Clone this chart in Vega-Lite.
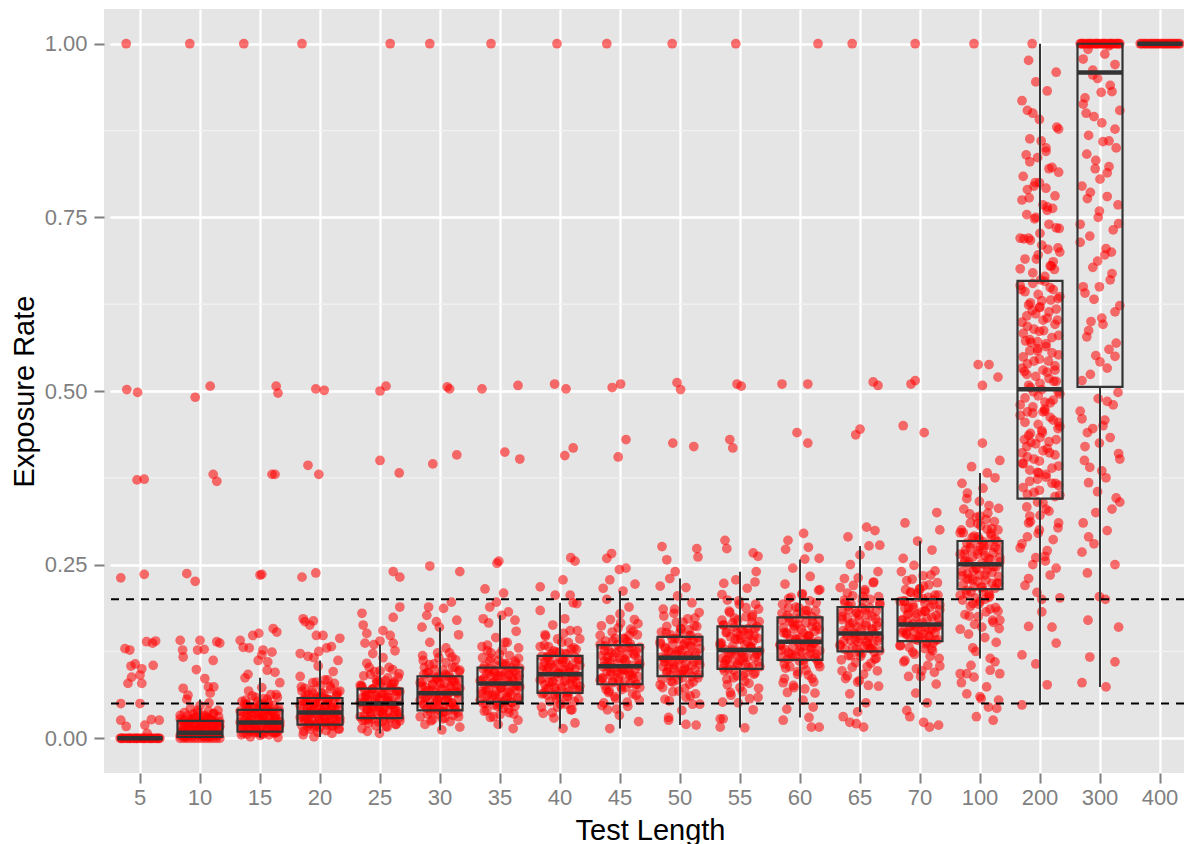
{
  "$schema": "https://vega.github.io/schema/vega-lite/v6.json",
  "width": 1080,
  "height": 764,
  "autosize": {"type": "none"},
  "padding": {"left": 104, "top": 9, "right": 0, "bottom": 71},
  "background": "#FFFFFF",
  "config": {
    "view": {"fill": "#E5E5E5", "stroke": null},
    "axis": {"labelFont": "Liberation Sans", "titleFont": "Liberation Sans"}
  },
  "datasets": {
    "minor": [{"y": 0.125}, {"y": 0.375}, {"y": 0.625}, {"y": 0.875}],
    "ref": [{"y": 0.05}, {"y": 0.2}],
    "box": [
      {"t":5,"lo":0,"q1":0,"md":0,"q3":0,"hi":0},
      {"t":10,"lo":0,"q1":0.002,"md":0.008,"q3":0.025,"hi":0.056},
      {"t":15,"lo":0.001,"q1":0.0096,"md":0.0226,"q3":0.041,"hi":0.087},
      {"t":20,"lo":0.002,"q1":0.0197,"md":0.037,"q3":0.058,"hi":0.112},
      {"t":25,"lo":0.007,"q1":0.029,"md":0.05,"q3":0.0716,"hi":0.135},
      {"t":30,"lo":0.0115,"q1":0.0403,"md":0.065,"q3":0.0893,"hi":0.1595},
      {"t":35,"lo":0.014,"q1":0.0524,"md":0.0788,"q3":0.1018,"hi":0.177},
      {"t":40,"lo":0.014,"q1":0.0653,"md":0.0922,"q3":0.1186,"hi":0.195},
      {"t":45,"lo":0.014,"q1":0.0778,"md":0.1037,"q3":0.134,"hi":0.212},
      {"t":50,"lo":0.019,"q1":0.0893,"md":0.116,"q3":0.146,"hi":0.23},
      {"t":55,"lo":0.0154,"q1":0.1,"md":0.127,"q3":0.161,"hi":0.2397},
      {"t":60,"lo":0.0298,"q1":0.113,"md":0.139,"q3":0.174,"hi":0.2575},
      {"t":65,"lo":0.038,"q1":0.125,"md":0.151,"q3":0.189,"hi":0.2767},
      {"t":70,"lo":0.0514,"q1":0.1398,"md":0.1638,"q3":0.2003,"hi":0.284},
      {"t":100,"lo":0.1148,"q1":0.2147,"md":0.2507,"q3":0.284,"hi":0.382},
      {"t":200,"lo":0.0476,"q1":0.345,"md":0.5024,"q3":0.6585,"hi":1},
      {"t":300,"lo":0.074,"q1":0.506,"md":0.9587,"q3":1,"hi":1},
      {"t":400,"lo":1,"q1":1,"md":1,"q3":1,"hi":1}
    ],
    "pts": [
      {"t":5,"y":0,"j":-33},{"t":5,"y":0,"j":-27},{"t":5,"y":0,"j":-21},{"t":5,"y":0,"j":-15},{"t":5,"y":0,"j":-9},{"t":5,"y":0,"j":-3},{"t":5,"y":0,"j":3},{"t":5,"y":0,"j":9},{"t":5,"y":0,"j":15},{"t":5,"y":0,"j":21},{"t":5,"y":0,"j":27},{"t":5,"y":0,"j":33},{"t":5,"y":0,"j":-30},{"t":5,"y":0,"j":-18},{"t":5,"y":0,"j":-6},{"t":5,"y":0,"j":6},{"t":5,"y":0,"j":18},{"t":5,"y":0,"j":30},
      {"t":5,"y":0,"j":-31},{"t":5,"y":0,"j":-24},{"t":5,"y":0,"j":-17},{"t":5,"y":0,"j":-11},{"t":5,"y":0,"j":-5},{"t":5,"y":0,"j":1},{"t":5,"y":0,"j":7},{"t":5,"y":0,"j":13},{"t":5,"y":0,"j":19},{"t":5,"y":0,"j":25},{"t":5,"y":0,"j":31},
      {"t":5,"y":0.231,"j":-32},{"t":5,"y":0.236,"j":7},{"t":5,"y":0.129,"j":-25},{"t":5,"y":0.127,"j":-17},{"t":5,"y":0.139,"j":11},{"t":5,"y":0.137,"j":21},{"t":5,"y":0.107,"j":-8},{"t":5,"y":0.105,"j":22},{"t":5,"y":0.1,"j":3},{"t":5,"y":0.088,"j":-14},{"t":5,"y":0.091,"j":0},{"t":5,"y":0.079,"j":-20},{"t":5,"y":0.079,"j":3},{"t":5,"y":0.05,"j":-32},{"t":5,"y":0.05,"j":0},{"t":5,"y":0.026,"j":-32},{"t":5,"y":0.017,"j":-23},{"t":5,"y":0.019,"j":8},{"t":5,"y":0.027,"j":19},{"t":5,"y":0.026,"j":32},{"t":5,"y":0.007,"j":12},{"t":5,"y":1,"j":-23},{"t":5,"y":0.502,"j":-22},{"t":5,"y":0.498,"j":-4},{"t":5,"y":0.372,"j":-5},{"t":5,"y":0.373,"j":7},{"t":5,"y":0.14,"j":26},{"t":5,"y":0.104,"j":-15},

      {"t":10,"y":0,"j":-33},{"t":10,"y":0,"j":-27},{"t":10,"y":0,"j":-21},{"t":10,"y":0,"j":-15},{"t":10,"y":0,"j":-9},{"t":10,"y":0,"j":-3},{"t":10,"y":0,"j":3},{"t":10,"y":0,"j":9},{"t":10,"y":0,"j":15},{"t":10,"y":0,"j":21},{"t":10,"y":0,"j":27},{"t":10,"y":0,"j":33},
      {"t":10,"y":0.002,"j":-25},{"t":10,"y":0.003,"j":17},{"t":10,"y":0.003,"j":-12},{"t":10,"y":0.003,"j":8},{"t":10,"y":0.004,"j":-33},{"t":10,"y":0.004,"j":22},{"t":10,"y":0.005,"j":-3},{"t":10,"y":0.005,"j":30},{"t":10,"y":0.005,"j":-16},{"t":10,"y":0.006,"j":0},{"t":10,"y":0.006,"j":15},{"t":10,"y":0.007,"j":-22},{"t":10,"y":0.007,"j":5},{"t":10,"y":0.007,"j":25},{"t":10,"y":0.008,"j":-10},
      {"t":10,"y":0.009,"j":-28},{"t":10,"y":0.01,"j":20},{"t":10,"y":0.011,"j":-4},{"t":10,"y":0.012,"j":10},{"t":10,"y":0.013,"j":-17},{"t":10,"y":0.014,"j":31},{"t":10,"y":0.015,"j":-1},{"t":10,"y":0.017,"j":-21},{"t":10,"y":0.018,"j":-30},{"t":10,"y":0.019,"j":12},{"t":10,"y":0.02,"j":-7},{"t":10,"y":0.021,"j":27},{"t":10,"y":0.022,"j":-19},{"t":10,"y":0.023,"j":3},{"t":10,"y":0.024,"j":33},
      {"t":10,"y":0.026,"j":-25},{"t":10,"y":0.027,"j":17},{"t":10,"y":0.029,"j":-12},{"t":10,"y":0.031,"j":8},{"t":10,"y":0.033,"j":-33},{"t":10,"y":0.035,"j":22},{"t":10,"y":0.037,"j":-3},{"t":10,"y":0.04,"j":30},{"t":10,"y":0.043,"j":-16},{"t":10,"y":0.047,"j":0},{"t":10,"y":0.051,"j":15},{"t":10,"y":0.056,"j":-22},
      {"t":10,"y":0.002,"j":-24},{"t":10,"y":0.003,"j":6},{"t":10,"y":0.004,"j":29},{"t":10,"y":0.006,"j":-13},{"t":10,"y":0.007,"j":18},{"t":10,"y":0.008,"j":-31},{"t":10,"y":0.01,"j":1},{"t":10,"y":0.011,"j":24},{"t":10,"y":0.012,"j":-6},{"t":10,"y":0.014,"j":13},{"t":10,"y":0.015,"j":-27},{"t":10,"y":0.016,"j":32},{"t":10,"y":0.018,"j":-9},{"t":10,"y":0.019,"j":21},{"t":10,"y":0.02,"j":-18},{"t":10,"y":0.021,"j":10},{"t":10,"y":0.023,"j":26},{"t":10,"y":0.024,"j":-2},{"t":10,"y":0.025,"j":-29},{"t":10,"y":0.027,"j":16},{"t":10,"y":0.028,"j":-15},{"t":10,"y":0.029,"j":4},{"t":10,"y":0.031,"j":31},{"t":10,"y":0.032,"j":-21},{"t":10,"y":0.033,"j":8},{"t":10,"y":0.035,"j":-11},{"t":10,"y":0.036,"j":23},{"t":10,"y":0.037,"j":-26},{"t":10,"y":0.039,"j":14},{"t":10,"y":0.04,"j":-4},
      {"t":10,"y":0.002,"j":15},{"t":10,"y":0.004,"j":-23},{"t":10,"y":0.005,"j":2},{"t":10,"y":0.007,"j":28},{"t":10,"y":0.008,"j":-12},{"t":10,"y":0.01,"j":-30},{"t":10,"y":0.011,"j":20},{"t":10,"y":0.013,"j":-5},{"t":10,"y":0.014,"j":9},{"t":10,"y":0.016,"j":-19},{"t":10,"y":0.017,"j":33},{"t":10,"y":0.019,"j":-26},{"t":10,"y":0.02,"j":5},{"t":10,"y":0.022,"j":25},{"t":10,"y":0.023,"j":-15},{"t":10,"y":0.025,"j":-1},{"t":10,"y":0.026,"j":19},{"t":10,"y":0.028,"j":-33},{"t":10,"y":0.029,"j":12},{"t":10,"y":0.03,"j":-8},
      {"t":10,"y":0.141,"j":-33},{"t":10,"y":0.141,"j":0},{"t":10,"y":0.139,"j":28},{"t":10,"y":0.137,"j":33},{"t":10,"y":0.127,"j":-29},{"t":10,"y":0.127,"j":-4},{"t":10,"y":0.128,"j":7},{"t":10,"y":0.117,"j":-28},{"t":10,"y":0.112,"j":22},{"t":10,"y":0.099,"j":-6},{"t":10,"y":0.086,"j":8},{"t":10,"y":0.074,"j":14},{"t":10,"y":0.074,"j":23},{"t":10,"y":0.072,"j":-28},{"t":10,"y":0.062,"j":-20},{"t":10,"y":0.065,"j":17},{"t":10,"y":0.226,"j":-8},{"t":10,"y":0.237,"j":-22},{"t":10,"y":0.38,"j":22},{"t":10,"y":0.37,"j":28},{"t":10,"y":0.491,"j":-8},{"t":10,"y":0.507,"j":17},{"t":10,"y":1,"j":-17},

      {"t":15,"y":0.001,"j":30},{"t":15,"y":0.002,"j":-16},{"t":15,"y":0.004,"j":0},{"t":15,"y":0.005,"j":15},{"t":15,"y":0.006,"j":-22},{"t":15,"y":0.006,"j":5},{"t":15,"y":0.007,"j":25},{"t":15,"y":0.008,"j":-10},{"t":15,"y":0.008,"j":-28},{"t":15,"y":0.009,"j":20},{"t":15,"y":0.009,"j":-4},{"t":15,"y":0.009,"j":10},
      {"t":15,"y":0.01,"j":-17},{"t":15,"y":0.011,"j":31},{"t":15,"y":0.012,"j":-1},{"t":15,"y":0.013,"j":-21},{"t":15,"y":0.014,"j":-30},{"t":15,"y":0.014,"j":12},{"t":15,"y":0.015,"j":-7},{"t":15,"y":0.016,"j":27},{"t":15,"y":0.017,"j":-19},{"t":15,"y":0.018,"j":3},{"t":15,"y":0.019,"j":33},{"t":15,"y":0.02,"j":-25},{"t":15,"y":0.02,"j":17},{"t":15,"y":0.021,"j":-12},{"t":15,"y":0.022,"j":8},
      {"t":15,"y":0.023,"j":-33},{"t":15,"y":0.024,"j":22},{"t":15,"y":0.026,"j":-3},{"t":15,"y":0.027,"j":30},{"t":15,"y":0.028,"j":-16},{"t":15,"y":0.029,"j":0},{"t":15,"y":0.031,"j":15},{"t":15,"y":0.032,"j":-22},{"t":15,"y":0.033,"j":5},{"t":15,"y":0.034,"j":25},{"t":15,"y":0.036,"j":-10},{"t":15,"y":0.037,"j":-28},{"t":15,"y":0.038,"j":20},{"t":15,"y":0.039,"j":-4},{"t":15,"y":0.04,"j":10},
      {"t":15,"y":0.042,"j":-17},{"t":15,"y":0.044,"j":31},{"t":15,"y":0.047,"j":-1},{"t":15,"y":0.049,"j":-21},{"t":15,"y":0.053,"j":-30},{"t":15,"y":0.056,"j":12},{"t":15,"y":0.059,"j":-7},{"t":15,"y":0.063,"j":27},{"t":15,"y":0.068,"j":-19},{"t":15,"y":0.073,"j":3},{"t":15,"y":0.08,"j":33},{"t":15,"y":0.087,"j":-25},
      {"t":15,"y":0.005,"j":-31},{"t":15,"y":0.007,"j":1},{"t":15,"y":0.009,"j":24},{"t":15,"y":0.011,"j":-6},{"t":15,"y":0.013,"j":13},{"t":15,"y":0.015,"j":-27},{"t":15,"y":0.017,"j":32},{"t":15,"y":0.019,"j":-9},{"t":15,"y":0.021,"j":21},{"t":15,"y":0.023,"j":-18},{"t":15,"y":0.025,"j":10},{"t":15,"y":0.027,"j":26},{"t":15,"y":0.029,"j":-2},{"t":15,"y":0.031,"j":-29},{"t":15,"y":0.033,"j":16},{"t":15,"y":0.035,"j":-15},{"t":15,"y":0.037,"j":4},{"t":15,"y":0.039,"j":31},{"t":15,"y":0.041,"j":-21},{"t":15,"y":0.043,"j":8},{"t":15,"y":0.045,"j":-11},{"t":15,"y":0.047,"j":23},{"t":15,"y":0.049,"j":-26},{"t":15,"y":0.051,"j":14},{"t":15,"y":0.053,"j":-4},{"t":15,"y":0.055,"j":-24},{"t":15,"y":0.057,"j":6},{"t":15,"y":0.059,"j":29},{"t":15,"y":0.061,"j":-13},{"t":15,"y":0.063,"j":18},
      {"t":15,"y":0.009,"j":28},{"t":15,"y":0.011,"j":-12},{"t":15,"y":0.014,"j":-30},{"t":15,"y":0.016,"j":20},{"t":15,"y":0.018,"j":-5},{"t":15,"y":0.02,"j":9},{"t":15,"y":0.022,"j":-19},{"t":15,"y":0.024,"j":33},{"t":15,"y":0.026,"j":-26},{"t":15,"y":0.028,"j":5},{"t":15,"y":0.03,"j":25},{"t":15,"y":0.032,"j":-15},{"t":15,"y":0.035,"j":-1},{"t":15,"y":0.037,"j":19},{"t":15,"y":0.039,"j":-33},{"t":15,"y":0.041,"j":12},{"t":15,"y":0.043,"j":-8},{"t":15,"y":0.045,"j":15},{"t":15,"y":0.047,"j":-23},{"t":15,"y":0.049,"j":2},
      {"t":15,"y":0.141,"j":-33},{"t":15,"y":0.148,"j":-12},{"t":15,"y":0.151,"j":-2},{"t":15,"y":0.158,"j":22},{"t":15,"y":0.153,"j":28},{"t":15,"y":0.131,"j":-28},{"t":15,"y":0.13,"j":-18},{"t":15,"y":0.127,"j":5},{"t":15,"y":0.124,"j":20},{"t":15,"y":0.112,"j":-3},{"t":15,"y":0.11,"j":13},{"t":15,"y":0.098,"j":12},{"t":15,"y":0.12,"j":3},{"t":15,"y":0.092,"j":-20},{"t":15,"y":0.095,"j":25},{"t":15,"y":0.235,"j":0},{"t":15,"y":0.236,"j":3},{"t":15,"y":0.38,"j":20},{"t":15,"y":0.38,"j":25},{"t":15,"y":0.507,"j":27},{"t":15,"y":0.497,"j":30},{"t":15,"y":1,"j":-27},

      {"t":20,"y":0.002,"j":-10},{"t":20,"y":0.005,"j":-28},{"t":20,"y":0.007,"j":20},{"t":20,"y":0.009,"j":-4},{"t":20,"y":0.011,"j":10},{"t":20,"y":0.013,"j":-17},{"t":20,"y":0.014,"j":31},{"t":20,"y":0.015,"j":-1},{"t":20,"y":0.017,"j":-21},{"t":20,"y":0.018,"j":-30},{"t":20,"y":0.019,"j":12},{"t":20,"y":0.019,"j":-7},
      {"t":20,"y":0.02,"j":27},{"t":20,"y":0.021,"j":-19},{"t":20,"y":0.023,"j":3},{"t":20,"y":0.024,"j":33},{"t":20,"y":0.025,"j":-25},{"t":20,"y":0.026,"j":17},{"t":20,"y":0.027,"j":-12},{"t":20,"y":0.028,"j":8},{"t":20,"y":0.03,"j":-33},{"t":20,"y":0.031,"j":22},{"t":20,"y":0.032,"j":-3},{"t":20,"y":0.033,"j":30},{"t":20,"y":0.034,"j":-16},{"t":20,"y":0.035,"j":0},{"t":20,"y":0.037,"j":15},
      {"t":20,"y":0.038,"j":-22},{"t":20,"y":0.039,"j":5},{"t":20,"y":0.041,"j":25},{"t":20,"y":0.042,"j":-10},{"t":20,"y":0.043,"j":-28},{"t":20,"y":0.045,"j":20},{"t":20,"y":0.046,"j":-4},{"t":20,"y":0.048,"j":10},{"t":20,"y":0.049,"j":-17},{"t":20,"y":0.05,"j":31},{"t":20,"y":0.052,"j":-1},{"t":20,"y":0.053,"j":-21},{"t":20,"y":0.054,"j":-30},{"t":20,"y":0.056,"j":12},{"t":20,"y":0.057,"j":-7},
      {"t":20,"y":0.06,"j":27},{"t":20,"y":0.062,"j":-19},{"t":20,"y":0.065,"j":3},{"t":20,"y":0.068,"j":33},{"t":20,"y":0.072,"j":-25},{"t":20,"y":0.075,"j":17},{"t":20,"y":0.08,"j":-12},{"t":20,"y":0.084,"j":8},{"t":20,"y":0.089,"j":-33},{"t":20,"y":0.096,"j":22},{"t":20,"y":0.104,"j":-3},{"t":20,"y":0.112,"j":30},
      {"t":20,"y":0.01,"j":-27},{"t":20,"y":0.013,"j":32},{"t":20,"y":0.016,"j":-9},{"t":20,"y":0.018,"j":21},{"t":20,"y":0.021,"j":-18},{"t":20,"y":0.023,"j":10},{"t":20,"y":0.026,"j":26},{"t":20,"y":0.028,"j":-2},{"t":20,"y":0.031,"j":-29},{"t":20,"y":0.033,"j":16},{"t":20,"y":0.036,"j":-15},{"t":20,"y":0.038,"j":4},{"t":20,"y":0.041,"j":31},{"t":20,"y":0.043,"j":-21},{"t":20,"y":0.046,"j":8},{"t":20,"y":0.048,"j":-11},{"t":20,"y":0.051,"j":23},{"t":20,"y":0.053,"j":-26},{"t":20,"y":0.056,"j":14},{"t":20,"y":0.059,"j":-4},{"t":20,"y":0.061,"j":-24},{"t":20,"y":0.064,"j":6},{"t":20,"y":0.066,"j":29},{"t":20,"y":0.069,"j":-13},{"t":20,"y":0.071,"j":18},{"t":20,"y":0.074,"j":-31},{"t":20,"y":0.076,"j":1},{"t":20,"y":0.079,"j":24},{"t":20,"y":0.081,"j":-6},{"t":20,"y":0.084,"j":13},
      {"t":20,"y":0.018,"j":20},{"t":20,"y":0.021,"j":-5},{"t":20,"y":0.024,"j":9},{"t":20,"y":0.026,"j":-19},{"t":20,"y":0.029,"j":33},{"t":20,"y":0.031,"j":-26},{"t":20,"y":0.034,"j":5},{"t":20,"y":0.036,"j":25},{"t":20,"y":0.039,"j":-15},{"t":20,"y":0.042,"j":-1},{"t":20,"y":0.044,"j":19},{"t":20,"y":0.047,"j":-33},{"t":20,"y":0.049,"j":12},{"t":20,"y":0.052,"j":-8},{"t":20,"y":0.055,"j":15},{"t":20,"y":0.057,"j":-23},{"t":20,"y":0.06,"j":2},{"t":20,"y":0.062,"j":28},{"t":20,"y":0.065,"j":-12},{"t":20,"y":0.068,"j":-30},
      {"t":20,"y":0.122,"j":-33},{"t":20,"y":0.148,"j":-6},{"t":20,"y":0.148,"j":5},{"t":20,"y":0.144,"j":33},{"t":20,"y":0.132,"j":19},{"t":20,"y":0.13,"j":11},{"t":20,"y":0.116,"j":-10},{"t":20,"y":0.163,"j":-17},{"t":20,"y":0.168,"j":-25},{"t":20,"y":0.172,"j":-28},{"t":20,"y":0.169,"j":-11},{"t":20,"y":0.118,"j":-20},{"t":20,"y":0.125,"j":-2},{"t":20,"y":0.232,"j":-30},{"t":20,"y":0.238,"j":-7},{"t":20,"y":0.393,"j":-20},{"t":20,"y":0.38,"j":-2},{"t":20,"y":0.503,"j":-7},{"t":20,"y":0.501,"j":7},{"t":20,"y":1,"j":-30},

      {"t":25,"y":0.007,"j":-1},{"t":25,"y":0.01,"j":-21},{"t":25,"y":0.014,"j":-30},{"t":25,"y":0.016,"j":12},{"t":25,"y":0.018,"j":-7},{"t":25,"y":0.02,"j":27},{"t":25,"y":0.022,"j":-19},{"t":25,"y":0.024,"j":3},{"t":25,"y":0.025,"j":33},{"t":25,"y":0.026,"j":-25},{"t":25,"y":0.028,"j":17},{"t":25,"y":0.028,"j":-12},
      {"t":25,"y":0.03,"j":8},{"t":25,"y":0.031,"j":-33},{"t":25,"y":0.033,"j":22},{"t":25,"y":0.034,"j":-3},{"t":25,"y":0.035,"j":30},{"t":25,"y":0.037,"j":-16},{"t":25,"y":0.038,"j":0},{"t":25,"y":0.04,"j":15},{"t":25,"y":0.041,"j":-22},{"t":25,"y":0.042,"j":5},{"t":25,"y":0.044,"j":25},{"t":25,"y":0.045,"j":-10},{"t":25,"y":0.046,"j":-28},{"t":25,"y":0.048,"j":20},{"t":25,"y":0.049,"j":-4},
      {"t":25,"y":0.051,"j":10},{"t":25,"y":0.052,"j":-17},{"t":25,"y":0.054,"j":31},{"t":25,"y":0.055,"j":-1},{"t":25,"y":0.057,"j":-21},{"t":25,"y":0.058,"j":-30},{"t":25,"y":0.059,"j":12},{"t":25,"y":0.061,"j":-7},{"t":25,"y":0.062,"j":27},{"t":25,"y":0.064,"j":-19},{"t":25,"y":0.065,"j":3},{"t":25,"y":0.067,"j":33},{"t":25,"y":0.068,"j":-25},{"t":25,"y":0.069,"j":17},{"t":25,"y":0.071,"j":-12},
      {"t":25,"y":0.074,"j":8},{"t":25,"y":0.076,"j":-33},{"t":25,"y":0.079,"j":22},{"t":25,"y":0.083,"j":-3},{"t":25,"y":0.088,"j":30},{"t":25,"y":0.092,"j":-16},{"t":25,"y":0.097,"j":0},{"t":25,"y":0.102,"j":15},{"t":25,"y":0.108,"j":-22},{"t":25,"y":0.116,"j":5},{"t":25,"y":0.126,"j":25},{"t":25,"y":0.135,"j":-10},
      {"t":25,"y":0.017,"j":10},{"t":25,"y":0.02,"j":26},{"t":25,"y":0.023,"j":-2},{"t":25,"y":0.026,"j":-29},{"t":25,"y":0.029,"j":16},{"t":25,"y":0.032,"j":-15},{"t":25,"y":0.035,"j":4},{"t":25,"y":0.038,"j":31},{"t":25,"y":0.041,"j":-21},{"t":25,"y":0.044,"j":8},{"t":25,"y":0.046,"j":-11},{"t":25,"y":0.049,"j":23},{"t":25,"y":0.052,"j":-26},{"t":25,"y":0.055,"j":14},{"t":25,"y":0.058,"j":-4},{"t":25,"y":0.061,"j":-24},{"t":25,"y":0.064,"j":6},{"t":25,"y":0.067,"j":29},{"t":25,"y":0.07,"j":-13},{"t":25,"y":0.073,"j":18},{"t":25,"y":0.076,"j":-31},{"t":25,"y":0.079,"j":1},{"t":25,"y":0.081,"j":24},{"t":25,"y":0.084,"j":-6},{"t":25,"y":0.087,"j":13},{"t":25,"y":0.09,"j":-27},{"t":25,"y":0.093,"j":32},{"t":25,"y":0.096,"j":-9},{"t":25,"y":0.099,"j":21},{"t":25,"y":0.102,"j":-18},
      {"t":25,"y":0.027,"j":-19},{"t":25,"y":0.03,"j":33},{"t":25,"y":0.033,"j":-26},{"t":25,"y":0.036,"j":5},{"t":25,"y":0.039,"j":25},{"t":25,"y":0.042,"j":-15},{"t":25,"y":0.045,"j":-1},{"t":25,"y":0.048,"j":19},{"t":25,"y":0.051,"j":-33},{"t":25,"y":0.054,"j":12},{"t":25,"y":0.057,"j":-8},{"t":25,"y":0.059,"j":15},{"t":25,"y":0.062,"j":-23},{"t":25,"y":0.065,"j":2},{"t":25,"y":0.068,"j":28},{"t":25,"y":0.071,"j":-12},{"t":25,"y":0.074,"j":-30},{"t":25,"y":0.077,"j":20},{"t":25,"y":0.08,"j":-5},{"t":25,"y":0.083,"j":9},
      {"t":25,"y":0.163,"j":-28},{"t":25,"y":0.151,"j":-22},{"t":25,"y":0.148,"j":17},{"t":25,"y":0.137,"j":22},{"t":25,"y":0.137,"j":-25},{"t":25,"y":0.122,"j":-12},{"t":25,"y":0.18,"j":-30},{"t":25,"y":0.189,"j":33},{"t":25,"y":0.174,"j":22},{"t":25,"y":0.155,"j":5},{"t":25,"y":0.14,"j":0},{"t":25,"y":0.24,"j":22},{"t":25,"y":0.232,"j":33},{"t":25,"y":0.4,"j":0},{"t":25,"y":0.382,"j":32},{"t":25,"y":0.5,"j":0},{"t":25,"y":0.507,"j":10},{"t":25,"y":1,"j":17},

      {"t":30,"y":0.012,"j":3},{"t":30,"y":0.016,"j":33},{"t":30,"y":0.02,"j":-25},{"t":30,"y":0.024,"j":17},{"t":30,"y":0.027,"j":-12},{"t":30,"y":0.029,"j":8},{"t":30,"y":0.031,"j":-33},{"t":30,"y":0.033,"j":22},{"t":30,"y":0.035,"j":-3},{"t":30,"y":0.037,"j":30},{"t":30,"y":0.038,"j":-16},{"t":30,"y":0.039,"j":0},
      {"t":30,"y":0.041,"j":15},{"t":30,"y":0.043,"j":-22},{"t":30,"y":0.045,"j":5},{"t":30,"y":0.046,"j":25},{"t":30,"y":0.048,"j":-10},{"t":30,"y":0.049,"j":-28},{"t":30,"y":0.051,"j":20},{"t":30,"y":0.053,"j":-4},{"t":30,"y":0.054,"j":10},{"t":30,"y":0.056,"j":-17},{"t":30,"y":0.058,"j":31},{"t":30,"y":0.059,"j":-1},{"t":30,"y":0.061,"j":-21},{"t":30,"y":0.063,"j":-30},{"t":30,"y":0.064,"j":12},
      {"t":30,"y":0.066,"j":-7},{"t":30,"y":0.067,"j":27},{"t":30,"y":0.069,"j":-19},{"t":30,"y":0.071,"j":3},{"t":30,"y":0.072,"j":33},{"t":30,"y":0.074,"j":-25},{"t":30,"y":0.075,"j":17},{"t":30,"y":0.077,"j":-12},{"t":30,"y":0.079,"j":8},{"t":30,"y":0.08,"j":-33},{"t":30,"y":0.082,"j":22},{"t":30,"y":0.084,"j":-3},{"t":30,"y":0.085,"j":30},{"t":30,"y":0.087,"j":-16},{"t":30,"y":0.089,"j":0},
      {"t":30,"y":0.091,"j":15},{"t":30,"y":0.094,"j":-22},{"t":30,"y":0.098,"j":5},{"t":30,"y":0.102,"j":25},{"t":30,"y":0.107,"j":-10},{"t":30,"y":0.112,"j":-28},{"t":30,"y":0.117,"j":20},{"t":30,"y":0.123,"j":-4},{"t":30,"y":0.13,"j":10},{"t":30,"y":0.138,"j":-17},{"t":30,"y":0.149,"j":31},{"t":30,"y":0.16,"j":-1},
      {"t":30,"y":0.025,"j":-15},{"t":30,"y":0.028,"j":4},{"t":30,"y":0.031,"j":31},{"t":30,"y":0.035,"j":-21},{"t":30,"y":0.038,"j":8},{"t":30,"y":0.042,"j":-11},{"t":30,"y":0.045,"j":23},{"t":30,"y":0.048,"j":-26},{"t":30,"y":0.052,"j":14},{"t":30,"y":0.055,"j":-4},{"t":30,"y":0.058,"j":-24},{"t":30,"y":0.062,"j":6},{"t":30,"y":0.065,"j":29},{"t":30,"y":0.069,"j":-13},{"t":30,"y":0.072,"j":18},{"t":30,"y":0.075,"j":-31},{"t":30,"y":0.079,"j":1},{"t":30,"y":0.082,"j":24},{"t":30,"y":0.086,"j":-6},{"t":30,"y":0.089,"j":13},{"t":30,"y":0.092,"j":-27},{"t":30,"y":0.096,"j":32},{"t":30,"y":0.099,"j":-9},{"t":30,"y":0.102,"j":21},{"t":30,"y":0.106,"j":-18},{"t":30,"y":0.109,"j":10},{"t":30,"y":0.113,"j":26},{"t":30,"y":0.116,"j":-2},{"t":30,"y":0.119,"j":-29},{"t":30,"y":0.123,"j":16},
      {"t":30,"y":0.038,"j":5},{"t":30,"y":0.041,"j":25},{"t":30,"y":0.044,"j":-15},{"t":30,"y":0.048,"j":-1},{"t":30,"y":0.051,"j":19},{"t":30,"y":0.055,"j":-33},{"t":30,"y":0.058,"j":12},{"t":30,"y":0.061,"j":-8},{"t":30,"y":0.065,"j":15},{"t":30,"y":0.068,"j":-23},{"t":30,"y":0.071,"j":2},{"t":30,"y":0.075,"j":28},{"t":30,"y":0.078,"j":-12},{"t":30,"y":0.081,"j":-30},{"t":30,"y":0.085,"j":20},{"t":30,"y":0.088,"j":-5},{"t":30,"y":0.092,"j":9},{"t":30,"y":0.095,"j":-19},{"t":30,"y":0.098,"j":33},{"t":30,"y":0.102,"j":-26},
      {"t":30,"y":0.16,"j":-30},{"t":30,"y":0.189,"j":-19},{"t":30,"y":0.177,"j":-22},{"t":30,"y":0.168,"j":-6},{"t":30,"y":0.187,"j":6},{"t":30,"y":0.196,"j":19},{"t":30,"y":0.17,"j":28},{"t":30,"y":0.248,"j":-17},{"t":30,"y":0.24,"j":33},{"t":30,"y":0.395,"j":-12},{"t":30,"y":0.408,"j":28},{"t":30,"y":0.506,"j":12},{"t":30,"y":0.503,"j":16},{"t":30,"y":1,"j":-17},

      {"t":35,"y":0.014,"j":22},{"t":35,"y":0.02,"j":-3},{"t":35,"y":0.026,"j":30},{"t":35,"y":0.03,"j":-16},{"t":35,"y":0.034,"j":0},{"t":35,"y":0.037,"j":15},{"t":35,"y":0.04,"j":-22},{"t":35,"y":0.043,"j":5},{"t":35,"y":0.046,"j":25},{"t":35,"y":0.048,"j":-10},{"t":35,"y":0.05,"j":-28},{"t":35,"y":0.051,"j":20},
      {"t":35,"y":0.053,"j":-4},{"t":35,"y":0.055,"j":10},{"t":35,"y":0.057,"j":-17},{"t":35,"y":0.059,"j":31},{"t":35,"y":0.06,"j":-1},{"t":35,"y":0.062,"j":-21},{"t":35,"y":0.064,"j":-30},{"t":35,"y":0.066,"j":12},{"t":35,"y":0.067,"j":-7},{"t":35,"y":0.069,"j":27},{"t":35,"y":0.071,"j":-19},{"t":35,"y":0.073,"j":3},{"t":35,"y":0.074,"j":33},{"t":35,"y":0.076,"j":-25},{"t":35,"y":0.078,"j":17},
      {"t":35,"y":0.08,"j":-12},{"t":35,"y":0.081,"j":8},{"t":35,"y":0.083,"j":-33},{"t":35,"y":0.084,"j":22},{"t":35,"y":0.086,"j":-3},{"t":35,"y":0.087,"j":30},{"t":35,"y":0.089,"j":-16},{"t":35,"y":0.09,"j":0},{"t":35,"y":0.092,"j":15},{"t":35,"y":0.093,"j":-22},{"t":35,"y":0.095,"j":5},{"t":35,"y":0.097,"j":25},{"t":35,"y":0.098,"j":-10},{"t":35,"y":0.1,"j":-28},{"t":35,"y":0.101,"j":20},
      {"t":35,"y":0.104,"j":-4},{"t":35,"y":0.107,"j":10},{"t":35,"y":0.111,"j":-17},{"t":35,"y":0.115,"j":31},{"t":35,"y":0.121,"j":-1},{"t":35,"y":0.126,"j":-21},{"t":35,"y":0.132,"j":-30},{"t":35,"y":0.138,"j":12},{"t":35,"y":0.145,"j":-7},{"t":35,"y":0.154,"j":27},{"t":35,"y":0.166,"j":-19},{"t":35,"y":0.177,"j":3},
      {"t":35,"y":0.031,"j":-11},{"t":35,"y":0.035,"j":23},{"t":35,"y":0.039,"j":-26},{"t":35,"y":0.042,"j":14},{"t":35,"y":0.046,"j":-4},{"t":35,"y":0.05,"j":-24},{"t":35,"y":0.053,"j":6},{"t":35,"y":0.057,"j":29},{"t":35,"y":0.061,"j":-13},{"t":35,"y":0.064,"j":18},{"t":35,"y":0.068,"j":-31},{"t":35,"y":0.072,"j":1},{"t":35,"y":0.075,"j":24},{"t":35,"y":0.079,"j":-6},{"t":35,"y":0.083,"j":13},{"t":35,"y":0.086,"j":-27},{"t":35,"y":0.09,"j":32},{"t":35,"y":0.094,"j":-9},{"t":35,"y":0.097,"j":21},{"t":35,"y":0.101,"j":-18},{"t":35,"y":0.105,"j":10},{"t":35,"y":0.108,"j":26},{"t":35,"y":0.112,"j":-2},{"t":35,"y":0.116,"j":-29},{"t":35,"y":0.119,"j":16},{"t":35,"y":0.123,"j":-15},{"t":35,"y":0.127,"j":4},{"t":35,"y":0.13,"j":31},{"t":35,"y":0.134,"j":-21},{"t":35,"y":0.138,"j":8},
      {"t":35,"y":0.048,"j":-1},{"t":35,"y":0.052,"j":19},{"t":35,"y":0.055,"j":-33},{"t":35,"y":0.059,"j":12},{"t":35,"y":0.062,"j":-8},{"t":35,"y":0.066,"j":15},{"t":35,"y":0.069,"j":-23},{"t":35,"y":0.073,"j":2},{"t":35,"y":0.076,"j":28},{"t":35,"y":0.08,"j":-12},{"t":35,"y":0.083,"j":-30},{"t":35,"y":0.087,"j":20},{"t":35,"y":0.09,"j":-5},{"t":35,"y":0.094,"j":9},{"t":35,"y":0.097,"j":-19},{"t":35,"y":0.101,"j":33},{"t":35,"y":0.104,"j":-26},{"t":35,"y":0.108,"j":5},{"t":35,"y":0.111,"j":25},{"t":35,"y":0.115,"j":-15},
      {"t":35,"y":0.172,"j":-28},{"t":35,"y":0.189,"j":-17},{"t":35,"y":0.209,"j":6},{"t":35,"y":0.182,"j":14},{"t":35,"y":0.17,"j":25},{"t":35,"y":0.196,"j":-6},{"t":35,"y":0.215,"j":-25},{"t":35,"y":0.252,"j":-5},{"t":35,"y":0.255,"j":-2},{"t":35,"y":0.412,"j":8},{"t":35,"y":0.402,"j":33},{"t":35,"y":0.503,"j":-30},{"t":35,"y":0.508,"j":30},{"t":35,"y":1,"j":-15},

      {"t":40,"y":0.014,"j":5},{"t":40,"y":0.022,"j":25},{"t":40,"y":0.029,"j":-10},{"t":40,"y":0.036,"j":-28},{"t":40,"y":0.041,"j":20},{"t":40,"y":0.045,"j":-4},{"t":40,"y":0.049,"j":10},{"t":40,"y":0.053,"j":-17},{"t":40,"y":0.056,"j":31},{"t":40,"y":0.059,"j":-1},{"t":40,"y":0.062,"j":-21},{"t":40,"y":0.064,"j":-30},
      {"t":40,"y":0.066,"j":12},{"t":40,"y":0.068,"j":-7},{"t":40,"y":0.07,"j":27},{"t":40,"y":0.072,"j":-19},{"t":40,"y":0.073,"j":3},{"t":40,"y":0.075,"j":33},{"t":40,"y":0.077,"j":-25},{"t":40,"y":0.079,"j":17},{"t":40,"y":0.081,"j":-12},{"t":40,"y":0.082,"j":8},{"t":40,"y":0.084,"j":-33},{"t":40,"y":0.086,"j":22},{"t":40,"y":0.088,"j":-3},{"t":40,"y":0.09,"j":30},{"t":40,"y":0.091,"j":-16},
      {"t":40,"y":0.093,"j":0},{"t":40,"y":0.095,"j":15},{"t":40,"y":0.097,"j":-22},{"t":40,"y":0.098,"j":5},{"t":40,"y":0.1,"j":25},{"t":40,"y":0.102,"j":-10},{"t":40,"y":0.104,"j":-28},{"t":40,"y":0.105,"j":20},{"t":40,"y":0.107,"j":-4},{"t":40,"y":0.109,"j":10},{"t":40,"y":0.111,"j":-17},{"t":40,"y":0.113,"j":31},{"t":40,"y":0.114,"j":-1},{"t":40,"y":0.116,"j":-21},{"t":40,"y":0.118,"j":-30},
      {"t":40,"y":0.121,"j":12},{"t":40,"y":0.124,"j":-7},{"t":40,"y":0.128,"j":27},{"t":40,"y":0.132,"j":-19},{"t":40,"y":0.138,"j":3},{"t":40,"y":0.143,"j":33},{"t":40,"y":0.149,"j":-25},{"t":40,"y":0.155,"j":17},{"t":40,"y":0.163,"j":-12},{"t":40,"y":0.172,"j":8},{"t":40,"y":0.184,"j":-33},{"t":40,"y":0.195,"j":22},
      {"t":40,"y":0.037,"j":-13},{"t":40,"y":0.041,"j":18},{"t":40,"y":0.045,"j":-31},{"t":40,"y":0.049,"j":1},{"t":40,"y":0.053,"j":24},{"t":40,"y":0.057,"j":-6},{"t":40,"y":0.061,"j":13},{"t":40,"y":0.065,"j":-27},{"t":40,"y":0.069,"j":32},{"t":40,"y":0.073,"j":-9},{"t":40,"y":0.077,"j":21},{"t":40,"y":0.081,"j":-18},{"t":40,"y":0.085,"j":10},{"t":40,"y":0.09,"j":26},{"t":40,"y":0.094,"j":-2},{"t":40,"y":0.098,"j":-29},{"t":40,"y":0.102,"j":16},{"t":40,"y":0.106,"j":-15},{"t":40,"y":0.11,"j":4},{"t":40,"y":0.114,"j":31},{"t":40,"y":0.118,"j":-21},{"t":40,"y":0.122,"j":8},{"t":40,"y":0.126,"j":-11},{"t":40,"y":0.13,"j":23},{"t":40,"y":0.134,"j":-26},{"t":40,"y":0.138,"j":14},{"t":40,"y":0.143,"j":-4},{"t":40,"y":0.147,"j":-24},{"t":40,"y":0.151,"j":6},{"t":40,"y":0.155,"j":29},
      {"t":40,"y":0.06,"j":12},{"t":40,"y":0.063,"j":-8},{"t":40,"y":0.067,"j":15},{"t":40,"y":0.071,"j":-23},{"t":40,"y":0.075,"j":2},{"t":40,"y":0.079,"j":28},{"t":40,"y":0.082,"j":-12},{"t":40,"y":0.086,"j":-30},{"t":40,"y":0.09,"j":20},{"t":40,"y":0.094,"j":-5},{"t":40,"y":0.098,"j":9},{"t":40,"y":0.102,"j":-19},{"t":40,"y":0.105,"j":33},{"t":40,"y":0.109,"j":-26},{"t":40,"y":0.113,"j":5},{"t":40,"y":0.117,"j":25},{"t":40,"y":0.121,"j":-15},{"t":40,"y":0.124,"j":-1},{"t":40,"y":0.128,"j":19},{"t":40,"y":0.132,"j":-33},
      {"t":40,"y":0.218,"j":-33},{"t":40,"y":0.206,"j":-8},{"t":40,"y":0.206,"j":17},{"t":40,"y":0.194,"j":28},{"t":40,"y":0.228,"j":5},{"t":40,"y":0.26,"j":18},{"t":40,"y":0.255,"j":25},{"t":40,"y":0.407,"j":8},{"t":40,"y":0.418,"j":22},{"t":40,"y":0.51,"j":-9},{"t":40,"y":0.503,"j":10},{"t":40,"y":1,"j":-5},

      {"t":45,"y":0.014,"j":-17},{"t":45,"y":0.024,"j":31},{"t":45,"y":0.033,"j":-1},{"t":45,"y":0.041,"j":-21},{"t":45,"y":0.047,"j":-30},{"t":45,"y":0.052,"j":12},{"t":45,"y":0.057,"j":-7},{"t":45,"y":0.062,"j":27},{"t":45,"y":0.066,"j":-19},{"t":45,"y":0.07,"j":3},{"t":45,"y":0.073,"j":33},{"t":45,"y":0.076,"j":-25},
      {"t":45,"y":0.079,"j":17},{"t":45,"y":0.08,"j":-12},{"t":45,"y":0.082,"j":8},{"t":45,"y":0.084,"j":-33},{"t":45,"y":0.086,"j":22},{"t":45,"y":0.087,"j":-3},{"t":45,"y":0.089,"j":30},{"t":45,"y":0.091,"j":-16},{"t":45,"y":0.093,"j":0},{"t":45,"y":0.094,"j":15},{"t":45,"y":0.096,"j":-22},{"t":45,"y":0.098,"j":5},{"t":45,"y":0.099,"j":25},{"t":45,"y":0.101,"j":-10},{"t":45,"y":0.103,"j":-28},
      {"t":45,"y":0.105,"j":20},{"t":45,"y":0.107,"j":-4},{"t":45,"y":0.109,"j":10},{"t":45,"y":0.111,"j":-17},{"t":45,"y":0.113,"j":31},{"t":45,"y":0.115,"j":-1},{"t":45,"y":0.117,"j":-21},{"t":45,"y":0.119,"j":-30},{"t":45,"y":0.121,"j":12},{"t":45,"y":0.123,"j":-7},{"t":45,"y":0.125,"j":27},{"t":45,"y":0.127,"j":-19},{"t":45,"y":0.129,"j":3},{"t":45,"y":0.131,"j":33},{"t":45,"y":0.133,"j":-25},
      {"t":45,"y":0.136,"j":17},{"t":45,"y":0.14,"j":-12},{"t":45,"y":0.143,"j":8},{"t":45,"y":0.148,"j":-33},{"t":45,"y":0.154,"j":22},{"t":45,"y":0.159,"j":-3},{"t":45,"y":0.165,"j":30},{"t":45,"y":0.171,"j":-16},{"t":45,"y":0.179,"j":0},{"t":45,"y":0.189,"j":15},{"t":45,"y":0.2,"j":-22},{"t":45,"y":0.212,"j":5},
      {"t":45,"y":0.042,"j":-6},{"t":45,"y":0.046,"j":13},{"t":45,"y":0.051,"j":-27},{"t":45,"y":0.055,"j":32},{"t":45,"y":0.06,"j":-9},{"t":45,"y":0.064,"j":21},{"t":45,"y":0.068,"j":-18},{"t":45,"y":0.073,"j":10},{"t":45,"y":0.077,"j":26},{"t":45,"y":0.082,"j":-2},{"t":45,"y":0.086,"j":-29},{"t":45,"y":0.091,"j":16},{"t":45,"y":0.095,"j":-15},{"t":45,"y":0.1,"j":4},{"t":45,"y":0.104,"j":31},{"t":45,"y":0.109,"j":-21},{"t":45,"y":0.113,"j":8},{"t":45,"y":0.117,"j":-11},{"t":45,"y":0.122,"j":23},{"t":45,"y":0.126,"j":-26},{"t":45,"y":0.131,"j":14},{"t":45,"y":0.135,"j":-4},{"t":45,"y":0.14,"j":-24},{"t":45,"y":0.144,"j":6},{"t":45,"y":0.149,"j":29},{"t":45,"y":0.153,"j":-13},{"t":45,"y":0.157,"j":18},{"t":45,"y":0.162,"j":-31},{"t":45,"y":0.166,"j":1},{"t":45,"y":0.171,"j":24},
      {"t":45,"y":0.07,"j":-23},{"t":45,"y":0.074,"j":2},{"t":45,"y":0.078,"j":28},{"t":45,"y":0.082,"j":-12},{"t":45,"y":0.087,"j":-30},{"t":45,"y":0.091,"j":20},{"t":45,"y":0.095,"j":-5},{"t":45,"y":0.099,"j":9},{"t":45,"y":0.103,"j":-19},{"t":45,"y":0.107,"j":33},{"t":45,"y":0.111,"j":-26},{"t":45,"y":0.115,"j":5},{"t":45,"y":0.119,"j":25},{"t":45,"y":0.123,"j":-15},{"t":45,"y":0.127,"j":-1},{"t":45,"y":0.131,"j":19},{"t":45,"y":0.135,"j":-33},{"t":45,"y":0.139,"j":12},{"t":45,"y":0.144,"j":-8},{"t":45,"y":0.148,"j":15},
      {"t":45,"y":0.259,"j":-22},{"t":45,"y":0.266,"j":-14},{"t":45,"y":0.243,"j":-1},{"t":45,"y":0.228,"j":-17},{"t":45,"y":0.216,"j":-28},{"t":45,"y":0.245,"j":10},{"t":45,"y":0.222,"j":25},{"t":45,"y":0.405,"j":-3},{"t":45,"y":0.43,"j":10},{"t":45,"y":0.505,"j":-13},{"t":45,"y":0.51,"j":1},{"t":45,"y":1,"j":-22},

      {"t":50,"y":0.019,"j":27},{"t":50,"y":0.03,"j":-19},{"t":50,"y":0.04,"j":3},{"t":50,"y":0.049,"j":33},{"t":50,"y":0.056,"j":-25},{"t":50,"y":0.061,"j":17},{"t":50,"y":0.067,"j":-12},{"t":50,"y":0.072,"j":8},{"t":50,"y":0.077,"j":-33},{"t":50,"y":0.081,"j":22},{"t":50,"y":0.084,"j":-3},{"t":50,"y":0.087,"j":30},
      {"t":50,"y":0.09,"j":-16},{"t":50,"y":0.092,"j":0},{"t":50,"y":0.094,"j":15},{"t":50,"y":0.095,"j":-22},{"t":50,"y":0.097,"j":5},{"t":50,"y":0.099,"j":25},{"t":50,"y":0.101,"j":-10},{"t":50,"y":0.103,"j":-28},{"t":50,"y":0.105,"j":20},{"t":50,"y":0.106,"j":-4},{"t":50,"y":0.108,"j":10},{"t":50,"y":0.11,"j":-17},{"t":50,"y":0.112,"j":31},{"t":50,"y":0.113,"j":-1},{"t":50,"y":0.115,"j":-21},
      {"t":50,"y":0.117,"j":-30},{"t":50,"y":0.119,"j":12},{"t":50,"y":0.121,"j":-7},{"t":50,"y":0.123,"j":27},{"t":50,"y":0.125,"j":-19},{"t":50,"y":0.127,"j":3},{"t":50,"y":0.129,"j":33},{"t":50,"y":0.131,"j":-25},{"t":50,"y":0.133,"j":17},{"t":50,"y":0.135,"j":-12},{"t":50,"y":0.137,"j":8},{"t":50,"y":0.139,"j":-33},{"t":50,"y":0.141,"j":22},{"t":50,"y":0.143,"j":-3},{"t":50,"y":0.145,"j":30},
      {"t":50,"y":0.149,"j":-16},{"t":50,"y":0.152,"j":0},{"t":50,"y":0.156,"j":15},{"t":50,"y":0.161,"j":-22},{"t":50,"y":0.167,"j":5},{"t":50,"y":0.173,"j":25},{"t":50,"y":0.18,"j":-10},{"t":50,"y":0.186,"j":-28},{"t":50,"y":0.195,"j":20},{"t":50,"y":0.205,"j":-4},{"t":50,"y":0.217,"j":10},{"t":50,"y":0.23,"j":-17},
      {"t":50,"y":0.049,"j":21},{"t":50,"y":0.054,"j":-18},{"t":50,"y":0.059,"j":10},{"t":50,"y":0.064,"j":26},{"t":50,"y":0.068,"j":-2},{"t":50,"y":0.073,"j":-29},{"t":50,"y":0.078,"j":16},{"t":50,"y":0.082,"j":-15},{"t":50,"y":0.087,"j":4},{"t":50,"y":0.092,"j":31},{"t":50,"y":0.096,"j":-21},{"t":50,"y":0.101,"j":8},{"t":50,"y":0.106,"j":-11},{"t":50,"y":0.111,"j":23},{"t":50,"y":0.115,"j":-26},{"t":50,"y":0.12,"j":14},{"t":50,"y":0.125,"j":-4},{"t":50,"y":0.129,"j":-24},{"t":50,"y":0.134,"j":6},{"t":50,"y":0.139,"j":29},{"t":50,"y":0.143,"j":-13},{"t":50,"y":0.148,"j":18},{"t":50,"y":0.153,"j":-31},{"t":50,"y":0.158,"j":1},{"t":50,"y":0.162,"j":24},{"t":50,"y":0.167,"j":-6},{"t":50,"y":0.172,"j":13},{"t":50,"y":0.176,"j":-27},{"t":50,"y":0.181,"j":32},{"t":50,"y":0.186,"j":-9},
      {"t":50,"y":0.081,"j":-12},{"t":50,"y":0.085,"j":-30},{"t":50,"y":0.089,"j":20},{"t":50,"y":0.094,"j":-5},{"t":50,"y":0.098,"j":9},{"t":50,"y":0.102,"j":-19},{"t":50,"y":0.106,"j":33},{"t":50,"y":0.11,"j":-26},{"t":50,"y":0.115,"j":5},{"t":50,"y":0.119,"j":25},{"t":50,"y":0.123,"j":-15},{"t":50,"y":0.127,"j":-1},{"t":50,"y":0.131,"j":19},{"t":50,"y":0.136,"j":-33},{"t":50,"y":0.14,"j":12},{"t":50,"y":0.144,"j":-8},{"t":50,"y":0.148,"j":15},{"t":50,"y":0.152,"j":-23},{"t":50,"y":0.157,"j":2},{"t":50,"y":0.161,"j":28},
      {"t":50,"y":0.276,"j":-30},{"t":50,"y":0.257,"j":-22},{"t":50,"y":0.273,"j":28},{"t":50,"y":0.261,"j":30},{"t":50,"y":0.24,"j":-8},{"t":50,"y":0.219,"j":-33},{"t":50,"y":0.026,"j":-19},{"t":50,"y":0.02,"j":10},{"t":50,"y":0.425,"j":-12},{"t":50,"y":0.42,"j":23},{"t":50,"y":0.512,"j":-5},{"t":50,"y":0.502,"j":1},{"t":50,"y":1,"j":-13},

      {"t":55,"y":0.015,"j":8},{"t":55,"y":0.028,"j":-33},{"t":55,"y":0.041,"j":22},{"t":55,"y":0.051,"j":-3},{"t":55,"y":0.059,"j":30},{"t":55,"y":0.066,"j":-16},{"t":55,"y":0.073,"j":0},{"t":55,"y":0.079,"j":15},{"t":55,"y":0.085,"j":-22},{"t":55,"y":0.09,"j":5},{"t":55,"y":0.094,"j":25},{"t":55,"y":0.098,"j":-10},
      {"t":55,"y":0.101,"j":-28},{"t":55,"y":0.103,"j":20},{"t":55,"y":0.105,"j":-4},{"t":55,"y":0.106,"j":10},{"t":55,"y":0.108,"j":-17},{"t":55,"y":0.11,"j":31},{"t":55,"y":0.112,"j":-1},{"t":55,"y":0.114,"j":-21},{"t":55,"y":0.115,"j":-30},{"t":55,"y":0.117,"j":12},{"t":55,"y":0.119,"j":-7},{"t":55,"y":0.121,"j":27},{"t":55,"y":0.122,"j":-19},{"t":55,"y":0.124,"j":3},{"t":55,"y":0.126,"j":33},
      {"t":55,"y":0.128,"j":-25},{"t":55,"y":0.13,"j":17},{"t":55,"y":0.133,"j":-12},{"t":55,"y":0.135,"j":8},{"t":55,"y":0.137,"j":-33},{"t":55,"y":0.14,"j":22},{"t":55,"y":0.142,"j":-3},{"t":55,"y":0.144,"j":30},{"t":55,"y":0.146,"j":-16},{"t":55,"y":0.148,"j":0},{"t":55,"y":0.151,"j":15},{"t":55,"y":0.153,"j":-22},{"t":55,"y":0.155,"j":5},{"t":55,"y":0.158,"j":25},{"t":55,"y":0.16,"j":-10},
      {"t":55,"y":0.163,"j":-28},{"t":55,"y":0.167,"j":20},{"t":55,"y":0.17,"j":-4},{"t":55,"y":0.175,"j":10},{"t":55,"y":0.181,"j":-17},{"t":55,"y":0.186,"j":31},{"t":55,"y":0.193,"j":-1},{"t":55,"y":0.199,"j":-21},{"t":55,"y":0.207,"j":-30},{"t":55,"y":0.216,"j":12},{"t":55,"y":0.228,"j":-7},{"t":55,"y":0.24,"j":27},
      {"t":55,"y":0.052,"j":-29},{"t":55,"y":0.057,"j":16},{"t":55,"y":0.062,"j":-15},{"t":55,"y":0.067,"j":4},{"t":55,"y":0.072,"j":31},{"t":55,"y":0.077,"j":-21},{"t":55,"y":0.082,"j":8},{"t":55,"y":0.087,"j":-11},{"t":55,"y":0.092,"j":23},{"t":55,"y":0.097,"j":-26},{"t":55,"y":0.102,"j":14},{"t":55,"y":0.107,"j":-4},{"t":55,"y":0.112,"j":-24},{"t":55,"y":0.117,"j":6},{"t":55,"y":0.122,"j":29},{"t":55,"y":0.127,"j":-13},{"t":55,"y":0.132,"j":18},{"t":55,"y":0.137,"j":-31},{"t":55,"y":0.143,"j":1},{"t":55,"y":0.148,"j":24},{"t":55,"y":0.153,"j":-6},{"t":55,"y":0.158,"j":13},{"t":55,"y":0.163,"j":-27},{"t":55,"y":0.168,"j":32},{"t":55,"y":0.173,"j":-9},{"t":55,"y":0.178,"j":21},{"t":55,"y":0.183,"j":-18},{"t":55,"y":0.188,"j":10},{"t":55,"y":0.193,"j":26},{"t":55,"y":0.198,"j":-2},
      {"t":55,"y":0.09,"j":-5},{"t":55,"y":0.094,"j":9},{"t":55,"y":0.099,"j":-19},{"t":55,"y":0.103,"j":33},{"t":55,"y":0.107,"j":-26},{"t":55,"y":0.112,"j":5},{"t":55,"y":0.116,"j":25},{"t":55,"y":0.121,"j":-15},{"t":55,"y":0.125,"j":-1},{"t":55,"y":0.13,"j":19},{"t":55,"y":0.134,"j":-33},{"t":55,"y":0.139,"j":12},{"t":55,"y":0.143,"j":-8},{"t":55,"y":0.148,"j":15},{"t":55,"y":0.152,"j":-23},{"t":55,"y":0.157,"j":2},{"t":55,"y":0.161,"j":28},{"t":55,"y":0.166,"j":-12},{"t":55,"y":0.17,"j":-30},{"t":55,"y":0.175,"j":20},
      {"t":55,"y":0.285,"j":-25},{"t":55,"y":0.273,"j":-22},{"t":55,"y":0.267,"j":22},{"t":55,"y":0.262,"j":30},{"t":55,"y":0.223,"j":-27},{"t":55,"y":0.225,"j":25},{"t":55,"y":0.028,"j":-28},{"t":55,"y":0.016,"j":-33},{"t":55,"y":0.43,"j":-17},{"t":55,"y":0.418,"j":-12},{"t":55,"y":0.51,"j":-5},{"t":55,"y":0.507,"j":2},{"t":55,"y":1,"j":-7},

      {"t":60,"y":0.03,"j":15},{"t":60,"y":0.042,"j":-22},{"t":60,"y":0.055,"j":5},{"t":60,"y":0.065,"j":25},{"t":60,"y":0.073,"j":-10},{"t":60,"y":0.08,"j":-28},{"t":60,"y":0.086,"j":20},{"t":60,"y":0.092,"j":-4},{"t":60,"y":0.098,"j":10},{"t":60,"y":0.103,"j":-17},{"t":60,"y":0.107,"j":31},{"t":60,"y":0.111,"j":-1},
      {"t":60,"y":0.114,"j":-21},{"t":60,"y":0.116,"j":-30},{"t":60,"y":0.117,"j":12},{"t":60,"y":0.119,"j":-7},{"t":60,"y":0.121,"j":27},{"t":60,"y":0.123,"j":-19},{"t":60,"y":0.124,"j":3},{"t":60,"y":0.126,"j":33},{"t":60,"y":0.128,"j":-25},{"t":60,"y":0.129,"j":17},{"t":60,"y":0.131,"j":-12},{"t":60,"y":0.133,"j":8},{"t":60,"y":0.135,"j":-33},{"t":60,"y":0.136,"j":22},{"t":60,"y":0.138,"j":-3},
      {"t":60,"y":0.14,"j":30},{"t":60,"y":0.143,"j":-16},{"t":60,"y":0.145,"j":0},{"t":60,"y":0.147,"j":15},{"t":60,"y":0.15,"j":-22},{"t":60,"y":0.152,"j":5},{"t":60,"y":0.154,"j":25},{"t":60,"y":0.157,"j":-10},{"t":60,"y":0.159,"j":-28},{"t":60,"y":0.161,"j":20},{"t":60,"y":0.164,"j":-4},{"t":60,"y":0.166,"j":10},{"t":60,"y":0.168,"j":-17},{"t":60,"y":0.171,"j":31},{"t":60,"y":0.173,"j":-1},
      {"t":60,"y":0.177,"j":-21},{"t":60,"y":0.18,"j":-30},{"t":60,"y":0.184,"j":12},{"t":60,"y":0.189,"j":-7},{"t":60,"y":0.195,"j":27},{"t":60,"y":0.201,"j":-19},{"t":60,"y":0.207,"j":3},{"t":60,"y":0.214,"j":33},{"t":60,"y":0.222,"j":-25},{"t":60,"y":0.233,"j":17},{"t":60,"y":0.245,"j":-12},{"t":60,"y":0.258,"j":8},
      {"t":60,"y":0.066,"j":-21},{"t":60,"y":0.071,"j":8},{"t":60,"y":0.076,"j":-11},{"t":60,"y":0.081,"j":23},{"t":60,"y":0.086,"j":-26},{"t":60,"y":0.091,"j":14},{"t":60,"y":0.096,"j":-4},{"t":60,"y":0.101,"j":-24},{"t":60,"y":0.106,"j":6},{"t":60,"y":0.112,"j":29},{"t":60,"y":0.117,"j":-13},{"t":60,"y":0.122,"j":18},{"t":60,"y":0.127,"j":-31},{"t":60,"y":0.132,"j":1},{"t":60,"y":0.137,"j":24},{"t":60,"y":0.142,"j":-6},{"t":60,"y":0.147,"j":13},{"t":60,"y":0.152,"j":-27},{"t":60,"y":0.157,"j":32},{"t":60,"y":0.162,"j":-9},{"t":60,"y":0.168,"j":21},{"t":60,"y":0.173,"j":-18},{"t":60,"y":0.178,"j":10},{"t":60,"y":0.183,"j":26},{"t":60,"y":0.188,"j":-2},{"t":60,"y":0.193,"j":-29},{"t":60,"y":0.198,"j":16},{"t":60,"y":0.203,"j":-15},{"t":60,"y":0.208,"j":4},{"t":60,"y":0.213,"j":31},
      {"t":60,"y":0.103,"j":33},{"t":60,"y":0.107,"j":-26},{"t":60,"y":0.112,"j":5},{"t":60,"y":0.116,"j":25},{"t":60,"y":0.121,"j":-15},{"t":60,"y":0.125,"j":-1},{"t":60,"y":0.13,"j":19},{"t":60,"y":0.134,"j":-33},{"t":60,"y":0.139,"j":12},{"t":60,"y":0.143,"j":-8},{"t":60,"y":0.148,"j":15},{"t":60,"y":0.152,"j":-23},{"t":60,"y":0.157,"j":2},{"t":60,"y":0.161,"j":28},{"t":60,"y":0.166,"j":-12},{"t":60,"y":0.17,"j":-30},{"t":60,"y":0.175,"j":20},{"t":60,"y":0.179,"j":-5},{"t":60,"y":0.184,"j":9},{"t":60,"y":0.188,"j":-19},
      {"t":60,"y":0.285,"j":-20},{"t":60,"y":0.272,"j":-24},{"t":60,"y":0.295,"j":6},{"t":60,"y":0.275,"j":14},{"t":60,"y":0.259,"j":32},{"t":60,"y":0.026,"j":-28},{"t":60,"y":0.016,"j":19},{"t":60,"y":0.016,"j":32},{"t":60,"y":0.045,"j":22},{"t":60,"y":0.44,"j":-5},{"t":60,"y":0.425,"j":13},{"t":60,"y":0.51,"j":-30},{"t":60,"y":0.51,"j":13},{"t":60,"y":1,"j":30},

      {"t":65,"y":0.038,"j":-4},{"t":65,"y":0.051,"j":10},{"t":65,"y":0.064,"j":-17},{"t":65,"y":0.075,"j":31},{"t":65,"y":0.083,"j":-1},{"t":65,"y":0.09,"j":-21},{"t":65,"y":0.097,"j":-30},{"t":65,"y":0.103,"j":12},{"t":65,"y":0.109,"j":-7},{"t":65,"y":0.115,"j":27},{"t":65,"y":0.119,"j":-19},{"t":65,"y":0.122,"j":3},
      {"t":65,"y":0.126,"j":33},{"t":65,"y":0.128,"j":-25},{"t":65,"y":0.129,"j":17},{"t":65,"y":0.131,"j":-12},{"t":65,"y":0.133,"j":8},{"t":65,"y":0.135,"j":-33},{"t":65,"y":0.136,"j":22},{"t":65,"y":0.138,"j":-3},{"t":65,"y":0.14,"j":30},{"t":65,"y":0.141,"j":-16},{"t":65,"y":0.143,"j":0},{"t":65,"y":0.145,"j":15},{"t":65,"y":0.147,"j":-22},{"t":65,"y":0.148,"j":5},{"t":65,"y":0.15,"j":25},
      {"t":65,"y":0.152,"j":-10},{"t":65,"y":0.155,"j":-28},{"t":65,"y":0.158,"j":20},{"t":65,"y":0.16,"j":-4},{"t":65,"y":0.162,"j":10},{"t":65,"y":0.165,"j":-17},{"t":65,"y":0.167,"j":31},{"t":65,"y":0.17,"j":-1},{"t":65,"y":0.173,"j":-21},{"t":65,"y":0.175,"j":-30},{"t":65,"y":0.178,"j":12},{"t":65,"y":0.18,"j":-7},{"t":65,"y":0.183,"j":27},{"t":65,"y":0.185,"j":-19},{"t":65,"y":0.188,"j":3},
      {"t":65,"y":0.192,"j":33},{"t":65,"y":0.195,"j":-25},{"t":65,"y":0.2,"j":17},{"t":65,"y":0.205,"j":-12},{"t":65,"y":0.211,"j":8},{"t":65,"y":0.217,"j":-33},{"t":65,"y":0.224,"j":22},{"t":65,"y":0.231,"j":-3},{"t":65,"y":0.24,"j":30},{"t":65,"y":0.25,"j":-16},{"t":65,"y":0.264,"j":0},{"t":65,"y":0.277,"j":15},
      {"t":65,"y":0.076,"j":14},{"t":65,"y":0.081,"j":-4},{"t":65,"y":0.086,"j":-24},{"t":65,"y":0.092,"j":6},{"t":65,"y":0.097,"j":29},{"t":65,"y":0.102,"j":-13},{"t":65,"y":0.108,"j":18},{"t":65,"y":0.113,"j":-31},{"t":65,"y":0.118,"j":1},{"t":65,"y":0.124,"j":24},{"t":65,"y":0.129,"j":-6},{"t":65,"y":0.134,"j":13},{"t":65,"y":0.14,"j":-27},{"t":65,"y":0.145,"j":32},{"t":65,"y":0.15,"j":-9},{"t":65,"y":0.156,"j":21},{"t":65,"y":0.161,"j":-18},{"t":65,"y":0.166,"j":10},{"t":65,"y":0.172,"j":26},{"t":65,"y":0.177,"j":-2},{"t":65,"y":0.182,"j":-29},{"t":65,"y":0.188,"j":16},{"t":65,"y":0.193,"j":-15},{"t":65,"y":0.198,"j":4},{"t":65,"y":0.204,"j":31},{"t":65,"y":0.209,"j":-21},{"t":65,"y":0.214,"j":8},{"t":65,"y":0.22,"j":-11},{"t":65,"y":0.225,"j":23},{"t":65,"y":0.23,"j":-26},
      {"t":65,"y":0.114,"j":25},{"t":65,"y":0.119,"j":-15},{"t":65,"y":0.124,"j":-1},{"t":65,"y":0.129,"j":19},{"t":65,"y":0.133,"j":-33},{"t":65,"y":0.138,"j":12},{"t":65,"y":0.143,"j":-8},{"t":65,"y":0.147,"j":15},{"t":65,"y":0.152,"j":-23},{"t":65,"y":0.157,"j":2},{"t":65,"y":0.162,"j":28},{"t":65,"y":0.166,"j":-12},{"t":65,"y":0.171,"j":-30},{"t":65,"y":0.176,"j":20},{"t":65,"y":0.181,"j":-5},{"t":65,"y":0.185,"j":9},{"t":65,"y":0.19,"j":-19},{"t":65,"y":0.195,"j":33},{"t":65,"y":0.199,"j":-26},{"t":65,"y":0.204,"j":5},
      {"t":65,"y":0.304,"j":11},{"t":65,"y":0.299,"j":25},{"t":65,"y":0.278,"j":33},{"t":65,"y":0.29,"j":-20},{"t":65,"y":0.031,"j":-28},{"t":65,"y":0.023,"j":-17},{"t":65,"y":0.021,"j":-6},{"t":65,"y":0.016,"j":6},{"t":65,"y":0.437,"j":-7},{"t":65,"y":0.445,"j":0},{"t":65,"y":0.508,"j":30},{"t":65,"y":0.513,"j":22},{"t":65,"y":1,"j":-13},

      {"t":70,"y":0.051,"j":12},{"t":70,"y":0.065,"j":-7},{"t":70,"y":0.078,"j":27},{"t":70,"y":0.089,"j":-19},{"t":70,"y":0.097,"j":3},{"t":70,"y":0.104,"j":33},{"t":70,"y":0.112,"j":-25},{"t":70,"y":0.118,"j":17},{"t":70,"y":0.124,"j":-12},{"t":70,"y":0.129,"j":8},{"t":70,"y":0.134,"j":-33},{"t":70,"y":0.137,"j":22},
      {"t":70,"y":0.141,"j":-3},{"t":70,"y":0.142,"j":30},{"t":70,"y":0.144,"j":-16},{"t":70,"y":0.145,"j":0},{"t":70,"y":0.147,"j":15},{"t":70,"y":0.149,"j":-22},{"t":70,"y":0.15,"j":5},{"t":70,"y":0.152,"j":25},{"t":70,"y":0.154,"j":-10},{"t":70,"y":0.155,"j":-28},{"t":70,"y":0.157,"j":20},{"t":70,"y":0.158,"j":-4},{"t":70,"y":0.16,"j":10},{"t":70,"y":0.161,"j":-17},{"t":70,"y":0.163,"j":31},
      {"t":70,"y":0.165,"j":-1},{"t":70,"y":0.168,"j":-21},{"t":70,"y":0.17,"j":-30},{"t":70,"y":0.172,"j":12},{"t":70,"y":0.175,"j":-7},{"t":70,"y":0.177,"j":27},{"t":70,"y":0.18,"j":-19},{"t":70,"y":0.182,"j":3},{"t":70,"y":0.185,"j":33},{"t":70,"y":0.187,"j":-25},{"t":70,"y":0.189,"j":17},{"t":70,"y":0.192,"j":-12},{"t":70,"y":0.194,"j":8},{"t":70,"y":0.197,"j":-33},{"t":70,"y":0.199,"j":22},
      {"t":70,"y":0.203,"j":-3},{"t":70,"y":0.206,"j":30},{"t":70,"y":0.21,"j":-16},{"t":70,"y":0.215,"j":0},{"t":70,"y":0.221,"j":15},{"t":70,"y":0.227,"j":-22},{"t":70,"y":0.234,"j":5},{"t":70,"y":0.241,"j":25},{"t":70,"y":0.249,"j":-10},{"t":70,"y":0.259,"j":-28},{"t":70,"y":0.271,"j":20},{"t":70,"y":0.284,"j":-4},
      {"t":70,"y":0.089,"j":1},{"t":70,"y":0.095,"j":24},{"t":70,"y":0.1,"j":-6},{"t":70,"y":0.105,"j":13},{"t":70,"y":0.11,"j":-27},{"t":70,"y":0.115,"j":32},{"t":70,"y":0.121,"j":-9},{"t":70,"y":0.126,"j":21},{"t":70,"y":0.131,"j":-18},{"t":70,"y":0.136,"j":10},{"t":70,"y":0.141,"j":26},{"t":70,"y":0.146,"j":-2},{"t":70,"y":0.152,"j":-29},{"t":70,"y":0.157,"j":16},{"t":70,"y":0.162,"j":-15},{"t":70,"y":0.167,"j":4},{"t":70,"y":0.172,"j":31},{"t":70,"y":0.178,"j":-21},{"t":70,"y":0.183,"j":8},{"t":70,"y":0.188,"j":-11},{"t":70,"y":0.193,"j":23},{"t":70,"y":0.198,"j":-26},{"t":70,"y":0.203,"j":14},{"t":70,"y":0.209,"j":-4},{"t":70,"y":0.214,"j":-24},{"t":70,"y":0.219,"j":6},{"t":70,"y":0.224,"j":29},{"t":70,"y":0.229,"j":-13},{"t":70,"y":0.235,"j":18},{"t":70,"y":0.24,"j":-31},
      {"t":70,"y":0.129,"j":19},{"t":70,"y":0.133,"j":-33},{"t":70,"y":0.138,"j":12},{"t":70,"y":0.142,"j":-8},{"t":70,"y":0.147,"j":15},{"t":70,"y":0.151,"j":-23},{"t":70,"y":0.156,"j":2},{"t":70,"y":0.16,"j":28},{"t":70,"y":0.165,"j":-12},{"t":70,"y":0.17,"j":-30},{"t":70,"y":0.174,"j":20},{"t":70,"y":0.179,"j":-5},{"t":70,"y":0.183,"j":9},{"t":70,"y":0.188,"j":-19},{"t":70,"y":0.192,"j":33},{"t":70,"y":0.197,"j":-26},{"t":70,"y":0.201,"j":5},{"t":70,"y":0.206,"j":25},{"t":70,"y":0.21,"j":-15},{"t":70,"y":0.215,"j":-1},
      {"t":70,"y":0.325,"j":28},{"t":70,"y":0.31,"j":-25},{"t":70,"y":0.3,"j":33},{"t":70,"y":0.04,"j":-22},{"t":70,"y":0.031,"j":-17},{"t":70,"y":0.023,"j":6},{"t":70,"y":0.016,"j":16},{"t":70,"y":0.019,"j":31},{"t":70,"y":0.44,"j":7},{"t":70,"y":0.45,"j":-28},{"t":70,"y":0.51,"j":-15},{"t":70,"y":0.515,"j":-8},{"t":70,"y":1,"j":-8},

      {"t":100,"y":0.115,"j":17},{"t":100,"y":0.13,"j":-12},{"t":100,"y":0.145,"j":8},{"t":100,"y":0.157,"j":-33},{"t":100,"y":0.167,"j":22},{"t":100,"y":0.175,"j":-3},{"t":100,"y":0.183,"j":30},{"t":100,"y":0.19,"j":-16},{"t":100,"y":0.197,"j":0},{"t":100,"y":0.203,"j":15},{"t":100,"y":0.208,"j":-22},{"t":100,"y":0.212,"j":5},
      {"t":100,"y":0.216,"j":25},{"t":100,"y":0.218,"j":-10},{"t":100,"y":0.221,"j":-28},{"t":100,"y":0.223,"j":20},{"t":100,"y":0.226,"j":-4},{"t":100,"y":0.228,"j":10},{"t":100,"y":0.23,"j":-17},{"t":100,"y":0.233,"j":31},{"t":100,"y":0.235,"j":-1},{"t":100,"y":0.237,"j":-21},{"t":100,"y":0.24,"j":-30},{"t":100,"y":0.242,"j":12},{"t":100,"y":0.245,"j":-7},{"t":100,"y":0.247,"j":27},{"t":100,"y":0.25,"j":-19},
      {"t":100,"y":0.252,"j":3},{"t":100,"y":0.254,"j":33},{"t":100,"y":0.256,"j":-25},{"t":100,"y":0.258,"j":17},{"t":100,"y":0.261,"j":-12},{"t":100,"y":0.263,"j":8},{"t":100,"y":0.265,"j":-33},{"t":100,"y":0.267,"j":22},{"t":100,"y":0.27,"j":-3},{"t":100,"y":0.272,"j":30},{"t":100,"y":0.274,"j":-16},{"t":100,"y":0.276,"j":0},{"t":100,"y":0.278,"j":15},{"t":100,"y":0.281,"j":-22},{"t":100,"y":0.283,"j":5},
      {"t":100,"y":0.287,"j":25},{"t":100,"y":0.291,"j":-10},{"t":100,"y":0.296,"j":-28},{"t":100,"y":0.302,"j":20},{"t":100,"y":0.309,"j":-4},{"t":100,"y":0.315,"j":10},{"t":100,"y":0.323,"j":-17},{"t":100,"y":0.331,"j":31},{"t":100,"y":0.341,"j":-1},{"t":100,"y":0.353,"j":-21},{"t":100,"y":0.367,"j":-30},{"t":100,"y":0.382,"j":12},
      {"t":100,"y":0.125,"j":-7},{"t":100,"y":0.138,"j":27},{"t":100,"y":0.15,"j":-19},{"t":100,"y":0.16,"j":3},{"t":100,"y":0.17,"j":33},{"t":100,"y":0.178,"j":-25},{"t":100,"y":0.186,"j":17},{"t":100,"y":0.194,"j":-12},{"t":100,"y":0.2,"j":8},{"t":100,"y":0.206,"j":-33},
      {"t":100,"y":0.29,"j":-3},{"t":100,"y":0.3,"j":30},{"t":100,"y":0.31,"j":-16},{"t":100,"y":0.32,"j":0},{"t":100,"y":0.335,"j":15},{"t":100,"y":0.345,"j":-22},{"t":100,"y":0.36,"j":5},{"t":100,"y":0.375,"j":25},
      {"t":100,"y":0.158,"j":32},{"t":100,"y":0.164,"j":-9},{"t":100,"y":0.17,"j":21},{"t":100,"y":0.176,"j":-18},{"t":100,"y":0.182,"j":10},{"t":100,"y":0.188,"j":26},{"t":100,"y":0.193,"j":-2},{"t":100,"y":0.199,"j":-29},{"t":100,"y":0.205,"j":16},{"t":100,"y":0.211,"j":-15},{"t":100,"y":0.217,"j":4},{"t":100,"y":0.223,"j":31},{"t":100,"y":0.229,"j":-21},{"t":100,"y":0.235,"j":8},{"t":100,"y":0.241,"j":-11},{"t":100,"y":0.247,"j":23},{"t":100,"y":0.253,"j":-26},{"t":100,"y":0.259,"j":14},{"t":100,"y":0.265,"j":-4},{"t":100,"y":0.271,"j":-24},{"t":100,"y":0.277,"j":6},{"t":100,"y":0.283,"j":29},{"t":100,"y":0.289,"j":-13},{"t":100,"y":0.295,"j":18},{"t":100,"y":0.3,"j":-31},{"t":100,"y":0.306,"j":1},{"t":100,"y":0.312,"j":24},{"t":100,"y":0.318,"j":-6},{"t":100,"y":0.324,"j":13},{"t":100,"y":0.33,"j":-27},
      {"t":100,"y":0.202,"j":-8},{"t":100,"y":0.208,"j":15},{"t":100,"y":0.213,"j":-23},{"t":100,"y":0.218,"j":2},{"t":100,"y":0.223,"j":28},{"t":100,"y":0.228,"j":-12},{"t":100,"y":0.234,"j":-30},{"t":100,"y":0.239,"j":20},{"t":100,"y":0.244,"j":-5},{"t":100,"y":0.249,"j":9},{"t":100,"y":0.254,"j":-19},{"t":100,"y":0.26,"j":33},{"t":100,"y":0.265,"j":-26},{"t":100,"y":0.27,"j":5},{"t":100,"y":0.275,"j":25},{"t":100,"y":0.28,"j":-15},{"t":100,"y":0.286,"j":-1},{"t":100,"y":0.291,"j":19},{"t":100,"y":0.296,"j":-33},{"t":100,"y":0.301,"j":12},
      {"t":100,"y":0.093,"j":-33},{"t":100,"y":0.093,"j":-22},{"t":100,"y":0.08,"j":-31},{"t":100,"y":0.064,"j":-22},{"t":100,"y":0.06,"j":0},{"t":100,"y":0.031,"j":-6},{"t":100,"y":0.026,"j":22},{"t":100,"y":0.043,"j":28},{"t":100,"y":0.045,"j":14},{"t":100,"y":0.055,"j":31},{"t":100,"y":0.098,"j":17},{"t":100,"y":0.093,"j":33},{"t":100,"y":0.088,"j":-10},{"t":100,"y":0.057,"j":2},{"t":100,"y":0.074,"j":11},{"t":100,"y":0.105,"j":-15},{"t":100,"y":0.11,"j":25},
      {"t":100,"y":0.425,"j":4},{"t":100,"y":0.4,"j":33},{"t":100,"y":0.391,"j":-14},{"t":100,"y":0.538,"j":-3},{"t":100,"y":0.538,"j":15},{"t":100,"y":0.52,"j":30},{"t":100,"y":0.508,"j":4},{"t":100,"y":1,"j":-10},

      {"t":200,"y":0.048,"j":-30},{"t":200,"y":0.077,"j":12},{"t":200,"y":0.107,"j":-7},{"t":200,"y":0.137,"j":27},{"t":200,"y":0.161,"j":-19},{"t":200,"y":0.182,"j":3},{"t":200,"y":0.202,"j":33},{"t":200,"y":0.22,"j":-25},{"t":200,"y":0.235,"j":17},{"t":200,"y":0.25,"j":-12},{"t":200,"y":0.262,"j":8},{"t":200,"y":0.274,"j":-33},{"t":200,"y":0.286,"j":22},{"t":200,"y":0.295,"j":-3},{"t":200,"y":0.303,"j":30},{"t":200,"y":0.312,"j":-16},{"t":200,"y":0.321,"j":0},{"t":200,"y":0.327,"j":15},{"t":200,"y":0.333,"j":-22},{"t":200,"y":0.339,"j":5},
      {"t":200,"y":0.2,"j":3},{"t":200,"y":0.23,"j":-19},{"t":200,"y":0.245,"j":27},{"t":200,"y":0.26,"j":-7},{"t":200,"y":0.27,"j":12},{"t":200,"y":0.28,"j":-30},{"t":200,"y":0.29,"j":-21},{"t":200,"y":0.3,"j":-1},{"t":200,"y":0.31,"j":31},{"t":200,"y":0.32,"j":-17},{"t":200,"y":0.33,"j":10},{"t":200,"y":0.34,"j":-4},
      {"t":200,"y":0.348,"j":25},{"t":200,"y":0.354,"j":-10},{"t":200,"y":0.361,"j":-28},{"t":200,"y":0.367,"j":20},{"t":200,"y":0.373,"j":-4},{"t":200,"y":0.38,"j":10},{"t":200,"y":0.386,"j":-17},{"t":200,"y":0.392,"j":31},{"t":200,"y":0.399,"j":-1},{"t":200,"y":0.405,"j":-21},{"t":200,"y":0.411,"j":-30},{"t":200,"y":0.417,"j":12},{"t":200,"y":0.424,"j":-7},{"t":200,"y":0.43,"j":27},{"t":200,"y":0.436,"j":-19},{"t":200,"y":0.443,"j":3},{"t":200,"y":0.449,"j":33},{"t":200,"y":0.455,"j":-25},{"t":200,"y":0.462,"j":17},{"t":200,"y":0.468,"j":-12},{"t":200,"y":0.474,"j":8},{"t":200,"y":0.48,"j":-33},{"t":200,"y":0.487,"j":22},{"t":200,"y":0.493,"j":-3},{"t":200,"y":0.499,"j":30},
      {"t":200,"y":0.351,"j":-21},{"t":200,"y":0.357,"j":-1},{"t":200,"y":0.364,"j":31},{"t":200,"y":0.37,"j":-17},{"t":200,"y":0.376,"j":10},{"t":200,"y":0.383,"j":-4},{"t":200,"y":0.389,"j":20},{"t":200,"y":0.395,"j":-28},{"t":200,"y":0.402,"j":-10},{"t":200,"y":0.408,"j":25},{"t":200,"y":0.414,"j":5},{"t":200,"y":0.42,"j":-22},{"t":200,"y":0.427,"j":15},{"t":200,"y":0.433,"j":0},{"t":200,"y":0.439,"j":-16},{"t":200,"y":0.446,"j":30},{"t":200,"y":0.452,"j":-3},{"t":200,"y":0.458,"j":22},{"t":200,"y":0.465,"j":-33},{"t":200,"y":0.471,"j":8},{"t":200,"y":0.477,"j":-12},{"t":200,"y":0.483,"j":17},{"t":200,"y":0.49,"j":-25},{"t":200,"y":0.496,"j":33},{"t":200,"y":0.502,"j":3},
      {"t":200,"y":0.505,"j":-16},{"t":200,"y":0.511,"j":0},{"t":200,"y":0.518,"j":15},{"t":200,"y":0.524,"j":-22},{"t":200,"y":0.53,"j":5},{"t":200,"y":0.536,"j":25},{"t":200,"y":0.543,"j":-10},{"t":200,"y":0.549,"j":-28},{"t":200,"y":0.555,"j":20},{"t":200,"y":0.561,"j":-4},{"t":200,"y":0.568,"j":10},{"t":200,"y":0.574,"j":-17},{"t":200,"y":0.58,"j":31},{"t":200,"y":0.586,"j":-1},{"t":200,"y":0.593,"j":-21},{"t":200,"y":0.599,"j":-30},{"t":200,"y":0.605,"j":12},{"t":200,"y":0.611,"j":-7},{"t":200,"y":0.618,"j":27},{"t":200,"y":0.624,"j":-19},{"t":200,"y":0.63,"j":3},{"t":200,"y":0.636,"j":33},{"t":200,"y":0.643,"j":-25},{"t":200,"y":0.649,"j":17},{"t":200,"y":0.655,"j":-12},
      {"t":200,"y":0.508,"j":-19},{"t":200,"y":0.514,"j":27},{"t":200,"y":0.521,"j":-7},{"t":200,"y":0.527,"j":12},{"t":200,"y":0.533,"j":-30},{"t":200,"y":0.539,"j":-21},{"t":200,"y":0.546,"j":-1},{"t":200,"y":0.552,"j":31},{"t":200,"y":0.558,"j":-17},{"t":200,"y":0.564,"j":10},{"t":200,"y":0.571,"j":-4},{"t":200,"y":0.577,"j":20},{"t":200,"y":0.583,"j":-28},{"t":200,"y":0.589,"j":-10},{"t":200,"y":0.596,"j":25},{"t":200,"y":0.602,"j":5},{"t":200,"y":0.608,"j":-22},{"t":200,"y":0.614,"j":15},{"t":200,"y":0.621,"j":0},{"t":200,"y":0.627,"j":-16},{"t":200,"y":0.633,"j":30},{"t":200,"y":0.639,"j":-3},{"t":200,"y":0.646,"j":22},{"t":200,"y":0.652,"j":-33},{"t":200,"y":0.658,"j":8},
      {"t":200,"y":0.665,"j":8},{"t":200,"y":0.676,"j":-33},{"t":200,"y":0.686,"j":22},{"t":200,"y":0.696,"j":-3},{"t":200,"y":0.706,"j":30},{"t":200,"y":0.717,"j":-16},{"t":200,"y":0.727,"j":0},{"t":200,"y":0.74,"j":15},{"t":200,"y":0.754,"j":-22},{"t":200,"y":0.768,"j":5},{"t":200,"y":0.781,"j":25},{"t":200,"y":0.795,"j":-10},{"t":200,"y":0.809,"j":-28},{"t":200,"y":0.822,"j":20},{"t":200,"y":0.836,"j":-4},{"t":200,"y":0.85,"j":10},{"t":200,"y":0.863,"j":-17},{"t":200,"y":0.877,"j":31},{"t":200,"y":0.891,"j":-1},{"t":200,"y":0.904,"j":-21},{"t":200,"y":0.918,"j":-30},{"t":200,"y":0.932,"j":12},{"t":200,"y":0.945,"j":-7},{"t":200,"y":0.959,"j":27},{"t":200,"y":0.976,"j":-19},
      {"t":200,"y":0.67,"j":-12},{"t":200,"y":0.68,"j":17},{"t":200,"y":0.69,"j":-25},{"t":200,"y":0.7,"j":33},{"t":200,"y":0.71,"j":3},{"t":200,"y":0.72,"j":-19},{"t":200,"y":0.735,"j":27},{"t":200,"y":0.75,"j":-7},{"t":200,"y":0.76,"j":12},{"t":200,"y":0.775,"j":-30},{"t":200,"y":0.79,"j":-21},{"t":200,"y":0.8,"j":-1},{"t":200,"y":0.815,"j":31},{"t":200,"y":0.83,"j":-17},{"t":200,"y":0.845,"j":10},{"t":200,"y":1,"j":-13},
      {"t":200,"y":0.367,"j":26},{"t":200,"y":0.382,"j":-2},{"t":200,"y":0.396,"j":-29},{"t":200,"y":0.411,"j":16},{"t":200,"y":0.426,"j":-15},{"t":200,"y":0.44,"j":4},{"t":200,"y":0.455,"j":31},{"t":200,"y":0.47,"j":-21},{"t":200,"y":0.484,"j":8},{"t":200,"y":0.499,"j":-11},{"t":200,"y":0.514,"j":23},{"t":200,"y":0.528,"j":-26},{"t":200,"y":0.543,"j":14},{"t":200,"y":0.558,"j":-4},{"t":200,"y":0.572,"j":-24},{"t":200,"y":0.587,"j":6},{"t":200,"y":0.602,"j":29},{"t":200,"y":0.616,"j":-13},{"t":200,"y":0.631,"j":18},{"t":200,"y":0.646,"j":-31},{"t":200,"y":0.66,"j":1},{"t":200,"y":0.675,"j":24},{"t":200,"y":0.69,"j":-6},{"t":200,"y":0.704,"j":13},{"t":200,"y":0.719,"j":-27},{"t":200,"y":0.734,"j":32},{"t":200,"y":0.748,"j":-9},{"t":200,"y":0.763,"j":21},{"t":200,"y":0.778,"j":-18},{"t":200,"y":0.792,"j":10},
      {"t":200,"y":0.12,"j":-30},{"t":200,"y":0.16,"j":20},{"t":200,"y":0.21,"j":-5},{"t":200,"y":0.255,"j":9},{"t":200,"y":0.31,"j":-19},{"t":200,"y":0.35,"j":33},{"t":200,"y":0.43,"j":-26},{"t":200,"y":0.47,"j":5},{"t":200,"y":0.53,"j":25},{"t":200,"y":0.57,"j":-15},{"t":200,"y":0.62,"j":-1},{"t":200,"y":0.68,"j":19},{"t":200,"y":0.72,"j":-33},{"t":200,"y":0.765,"j":12},{"t":200,"y":0.8,"j":-8},{"t":200,"y":0.82,"j":15},{"t":200,"y":0.84,"j":-23},{"t":200,"y":0.86,"j":2},{"t":200,"y":0.88,"j":28},{"t":200,"y":0.9,"j":-12},

      {"t":300,"y":1,"j":-33},{"t":300,"y":1,"j":-27},{"t":300,"y":1,"j":-21},{"t":300,"y":1,"j":-15},{"t":300,"y":1,"j":-9},{"t":300,"y":1,"j":-3},{"t":300,"y":1,"j":3},{"t":300,"y":1,"j":9},{"t":300,"y":1,"j":15},{"t":300,"y":1,"j":21},{"t":300,"y":1,"j":27},{"t":300,"y":1,"j":33},{"t":300,"y":1,"j":-30},{"t":300,"y":1,"j":-18},{"t":300,"y":1,"j":-6},{"t":300,"y":1,"j":6},{"t":300,"y":1,"j":18},{"t":300,"y":1,"j":30},
      {"t":300,"y":1,"j":-31},{"t":300,"y":1,"j":-24},{"t":300,"y":1,"j":-17},{"t":300,"y":1,"j":-11},{"t":300,"y":1,"j":-5},{"t":300,"y":1,"j":1},{"t":300,"y":1,"j":7},{"t":300,"y":1,"j":13},{"t":300,"y":1,"j":19},{"t":300,"y":1,"j":25},{"t":300,"y":1,"j":31},
      {"t":300,"y":0.962,"j":-12},{"t":300,"y":0.97,"j":25},{"t":300,"y":0.978,"j":-28},{"t":300,"y":0.985,"j":8},{"t":300,"y":0.992,"j":-20},{"t":300,"y":0.997,"j":15},
      {"t":300,"y":0.515,"j":-30},{"t":300,"y":0.533,"j":12},{"t":300,"y":0.551,"j":-7},{"t":300,"y":0.569,"j":27},{"t":300,"y":0.587,"j":-19},{"t":300,"y":0.605,"j":3},{"t":300,"y":0.623,"j":33},{"t":300,"y":0.641,"j":-25},{"t":300,"y":0.66,"j":17},{"t":300,"y":0.678,"j":-12},{"t":300,"y":0.696,"j":8},{"t":300,"y":0.714,"j":-33},{"t":300,"y":0.732,"j":22},{"t":300,"y":0.75,"j":-3},{"t":300,"y":0.768,"j":30},{"t":300,"y":0.786,"j":-16},{"t":300,"y":0.805,"j":0},{"t":300,"y":0.823,"j":15},{"t":300,"y":0.841,"j":-22},{"t":300,"y":0.859,"j":5},{"t":300,"y":0.877,"j":25},{"t":300,"y":0.895,"j":-10},{"t":300,"y":0.913,"j":-28},{"t":300,"y":0.931,"j":20},{"t":300,"y":0.95,"j":-4},
      {"t":300,"y":0.524,"j":-16},{"t":300,"y":0.542,"j":0},{"t":300,"y":0.56,"j":15},{"t":300,"y":0.578,"j":-22},{"t":300,"y":0.596,"j":5},{"t":300,"y":0.614,"j":25},{"t":300,"y":0.632,"j":-10},{"t":300,"y":0.65,"j":-28},{"t":300,"y":0.669,"j":20},{"t":300,"y":0.687,"j":-4},{"t":300,"y":0.705,"j":10},{"t":300,"y":0.723,"j":-17},{"t":300,"y":0.741,"j":31},{"t":300,"y":0.759,"j":-1},{"t":300,"y":0.777,"j":-21},{"t":300,"y":0.795,"j":-30},{"t":300,"y":0.814,"j":12},{"t":300,"y":0.832,"j":-7},{"t":300,"y":0.85,"j":27},{"t":300,"y":0.868,"j":-19},{"t":300,"y":0.886,"j":3},{"t":300,"y":0.904,"j":33},{"t":300,"y":0.922,"j":-25},{"t":300,"y":0.94,"j":17},{"t":300,"y":0.955,"j":-12},
      {"t":300,"y":0.074,"j":10},{"t":300,"y":0.117,"j":-17},{"t":300,"y":0.16,"j":31},{"t":300,"y":0.204,"j":-1},{"t":300,"y":0.238,"j":-21},{"t":300,"y":0.268,"j":-30},{"t":300,"y":0.299,"j":12},{"t":300,"y":0.325,"j":-7},{"t":300,"y":0.346,"j":27},{"t":300,"y":0.368,"j":-19},{"t":300,"y":0.385,"j":3},{"t":300,"y":0.402,"j":33},{"t":300,"y":0.42,"j":-25},{"t":300,"y":0.433,"j":17},{"t":300,"y":0.446,"j":-12},{"t":300,"y":0.458,"j":8},{"t":300,"y":0.471,"j":-33},{"t":300,"y":0.48,"j":22},{"t":300,"y":0.489,"j":-3},{"t":300,"y":0.498,"j":30},
      {"t":300,"y":0.25,"j":25},{"t":300,"y":0.28,"j":-10},{"t":300,"y":0.31,"j":-28},{"t":300,"y":0.33,"j":20},{"t":300,"y":0.355,"j":-4},{"t":300,"y":0.375,"j":10},{"t":300,"y":0.39,"j":-17},{"t":300,"y":0.41,"j":31},{"t":300,"y":0.425,"j":-1},{"t":300,"y":0.44,"j":-21},{"t":300,"y":0.46,"j":-30},{"t":300,"y":0.485,"j":12},{"t":300,"y":0.08,"j":-30},{"t":300,"y":0.11,"j":25},{"t":300,"y":0.17,"j":-20},
      {"t":300,"y":0.2,"j":9},{"t":300,"y":0.29,"j":-19},{"t":300,"y":0.34,"j":33},{"t":300,"y":0.4,"j":-26},{"t":300,"y":0.45,"j":5},{"t":300,"y":0.55,"j":25},{"t":300,"y":0.6,"j":-15},{"t":300,"y":0.65,"j":-1},{"t":300,"y":0.7,"j":19},{"t":300,"y":0.74,"j":-33},{"t":300,"y":0.78,"j":12},{"t":300,"y":0.82,"j":-8},{"t":300,"y":0.86,"j":15},{"t":300,"y":0.9,"j":-23},{"t":300,"y":0.93,"j":2},

      {"t":400,"y":1,"j":-33},{"t":400,"y":1,"j":-28},{"t":400,"y":1,"j":-23},{"t":400,"y":1,"j":-18},{"t":400,"y":1,"j":-13},{"t":400,"y":1,"j":-8},{"t":400,"y":1,"j":-3},{"t":400,"y":1,"j":3},{"t":400,"y":1,"j":8},{"t":400,"y":1,"j":13},{"t":400,"y":1,"j":18},{"t":400,"y":1,"j":23},{"t":400,"y":1,"j":28},{"t":400,"y":1,"j":33},
      {"t":400,"y":1,"j":-31},{"t":400,"y":1,"j":-24},{"t":400,"y":1,"j":-17},{"t":400,"y":1,"j":-11},{"t":400,"y":1,"j":-5},{"t":400,"y":1,"j":1},{"t":400,"y":1,"j":7},{"t":400,"y":1,"j":13},{"t":400,"y":1,"j":19},{"t":400,"y":1,"j":25},{"t":400,"y":1,"j":31}
    ]
  },
  "layer": [
    {
      "data": {"name": "minor"},
      "mark": {"type": "rule", "color": "#F2F2F2", "strokeWidth": 1.2},
      "encoding": {"y": {"field": "y", "type": "quantitative"}}
    },
    {
      "data": {"name": "pts"},
      "mark": {"type": "circle", "color": "#FF0000", "opacity": 0.55, "size": 95},
      "encoding": {
        "x": {
          "field": "t", "type": "ordinal",
          "scale": {"type": "band", "domain": [5,10,15,20,25,30,35,40,45,50,55,60,65,70,100,200,300,400], "range": [6, 1086], "paddingInner": 0, "paddingOuter": 0},
          "axis": {
            "title": "Test Length", "titleFontSize": 29, "titleFontWeight": "normal", "titleColor": "#000000",
            "titleBaseline": "alphabetic", "titleAlign": "center", "titleX": 546, "titleY": 66,
            "labelFontSize": 22, "labelColor": "#7F7F7F", "labelPadding": 4, "labelAngle": 0,
            "tickColor": "#7F7F7F", "tickSize": 10, "tickWidth": 2, "domain": false, "bandPosition": 0.5,
            "grid": true, "gridColor": "#FFFFFF", "gridWidth": 2.4
          }
        },
        "xOffset": {"field": "j", "type": "quantitative", "scale": {"domain": [-50, 50]}},
        "y": {
          "field": "y", "type": "quantitative",
          "scale": {"domain": [-0.05, 1.05], "nice": false, "zero": false},
          "axis": {
            "title": "Exposure Rate", "values": [0, 0.25, 0.5, 0.75, 1], "format": ".2f",
            "titleFontSize": 29, "titleFontWeight": "normal", "titleColor": "#000000",
            "titleBaseline": "alphabetic", "titleAlign": "center", "titleAngle": -90, "titleX": -71, "titleY": 382,
            "labelFontSize": 22, "labelColor": "#7F7F7F", "labelPadding": 7,
            "tickColor": "#7F7F7F", "tickSize": 10, "tickWidth": 2, "domain": false,
            "grid": true, "gridColor": "#FFFFFF", "gridWidth": 2.4
          }
        }
      }
    },
    {
      "data": {"name": "box"},
      "mark": {"type": "rule", "color": "#333333", "strokeWidth": 2},
      "encoding": {
        "x": {"field": "t", "type": "ordinal"},
        "y": {"field": "lo", "type": "quantitative"},
        "y2": {"field": "q1"}
      }
    },
    {
      "data": {"name": "box"},
      "mark": {"type": "rule", "color": "#333333", "strokeWidth": 2},
      "encoding": {
        "x": {"field": "t", "type": "ordinal"},
        "y": {"field": "q3", "type": "quantitative"},
        "y2": {"field": "hi"}
      }
    },
    {
      "data": {"name": "box"},
      "mark": {"type": "bar", "fill": "transparent", "stroke": "#333333", "strokeWidth": 2.2, "width": 45},
      "encoding": {
        "x": {"field": "t", "type": "ordinal"},
        "y": {"field": "q1", "type": "quantitative"},
        "y2": {"field": "q3"}
      }
    },
    {
      "data": {"name": "box"},
      "mark": {"type": "tick", "color": "#333333", "thickness": 4.5, "size": 45, "opacity": 1},
      "encoding": {
        "x": {"field": "t", "type": "ordinal"},
        "y": {"field": "md", "type": "quantitative"}
      }
    },
    {
      "data": {"name": "ref"},
      "mark": {"type": "rule", "color": "#000000", "strokeWidth": 2, "strokeDash": [8, 7]},
      "encoding": {"y": {"field": "y", "type": "quantitative"}}
    }
  ]
}
